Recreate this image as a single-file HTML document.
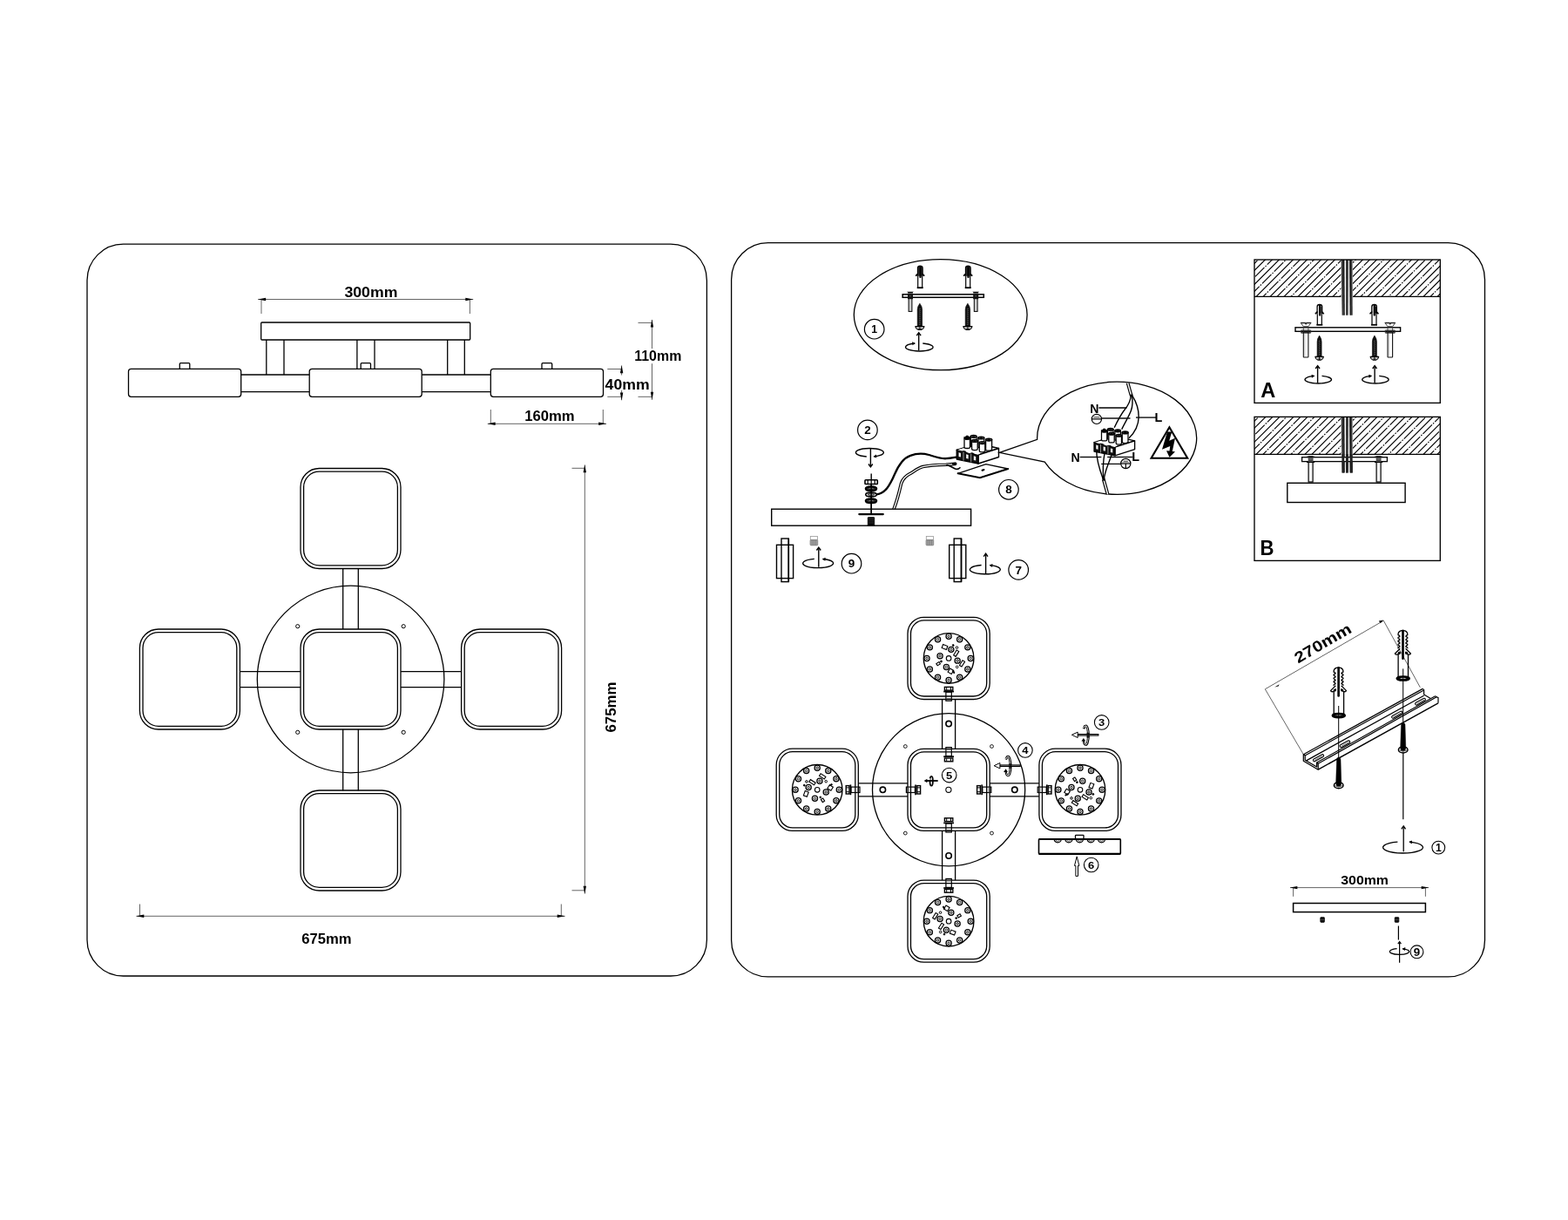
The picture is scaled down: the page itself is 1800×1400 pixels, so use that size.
<!DOCTYPE html>
<html lang="en"><head><meta charset="utf-8"><title>Installation diagram</title>
<style>
html,body{margin:0;padding:0;background:#fff;}
body{width:1800px;height:1400px;overflow:hidden;}
svg{display:block;will-change:transform;}
svg text{font-family:"Liberation Sans",sans-serif;}
</style></head><body>
<svg width="1800" height="1400" viewBox="0 0 1800 1400">
<rect x="0" y="0" width="1800" height="1400" fill="#fff"/>
<!-- left panel: dimensions -->
<rect x="100" y="280.2" width="711.4" height="839.8" rx="41.5" fill="none" stroke="#000" stroke-width="1.3" />
<rect x="299.7" y="370" width="240" height="20" rx="1" fill="none" stroke="#000" stroke-width="1.3" />
<line x1="305.8" y1="390" x2="305.8" y2="430" stroke="#000" stroke-width="1.3" />
<line x1="326" y1="390" x2="326" y2="430" stroke="#000" stroke-width="1.3" />
<line x1="409.9" y1="390" x2="409.9" y2="423.3" stroke="#000" stroke-width="1.3" />
<line x1="430" y1="390" x2="430" y2="423.3" stroke="#000" stroke-width="1.3" />
<line x1="513.7" y1="390" x2="513.7" y2="430" stroke="#000" stroke-width="1.3" />
<line x1="533.3" y1="390" x2="533.3" y2="430" stroke="#000" stroke-width="1.3" />
<line x1="276.7" y1="430" x2="355.2" y2="430" stroke="#000" stroke-width="1.3" />
<line x1="276.7" y1="449.7" x2="355.2" y2="449.7" stroke="#000" stroke-width="1.3" />
<line x1="484.2" y1="430" x2="563.3" y2="430" stroke="#000" stroke-width="1.3" />
<line x1="484.2" y1="449.7" x2="563.3" y2="449.7" stroke="#000" stroke-width="1.3" />
<path d="M206.3,423.3 V417.7 Q206.3,416.7 207.3,416.7 H216.8 Q217.8,416.7 217.8,417.7 V423.3" fill="none" stroke="#000" stroke-width="1.3" />
<rect x="147.5" y="423.3" width="129.2" height="32" rx="3" fill="#fff" stroke="#000" stroke-width="1.3" />
<path d="M414.2,423.3 V417.7 Q414.2,416.7 415.2,416.7 H424.5 Q425.5,416.7 425.5,417.7 V423.3" fill="none" stroke="#000" stroke-width="1.3" />
<rect x="355.2" y="423.3" width="129" height="32" rx="3" fill="#fff" stroke="#000" stroke-width="1.3" />
<path d="M622,423.3 V417.7 Q622,416.7 623,416.7 H632.7 Q633.7,416.7 633.7,417.7 V423.3" fill="none" stroke="#000" stroke-width="1.3" />
<rect x="563.3" y="423.3" width="129.2" height="32" rx="3" fill="#fff" stroke="#000" stroke-width="1.3" />
<line x1="296.2" y1="343.5" x2="543.2" y2="343.5" stroke="#222" stroke-width="0.7" />
<polygon points="296.1,343.5 305.1,341.8 305.1,345.2" fill="#000" stroke="none" stroke-width="0" />
<polygon points="543.3,343.5 534.3,345.2 534.3,341.8" fill="#000" stroke="none" stroke-width="0" />
<line x1="300" y1="360" x2="300" y2="343.5" stroke="#222" stroke-width="0.7" />
<line x1="539.4" y1="360" x2="539.4" y2="343.5" stroke="#222" stroke-width="0.7" />
<text x="425.9" y="341.1" font-size="16.3" font-weight="bold" text-anchor="middle" textLength="61" lengthAdjust="spacingAndGlyphs" fill="#000" >300mm</text>
<line x1="559.8" y1="486.3" x2="696" y2="486.3" stroke="#222" stroke-width="0.7" />
<polygon points="559.6,486.3 568.6,484.6 568.6,488" fill="#000" stroke="none" stroke-width="0" />
<polygon points="696.2,486.3 687.2,488 687.2,484.6" fill="#000" stroke="none" stroke-width="0" />
<line x1="563.3" y1="470" x2="563.3" y2="486.3" stroke="#222" stroke-width="0.7" />
<line x1="692.3" y1="470" x2="692.3" y2="486.3" stroke="#222" stroke-width="0.7" />
<text x="630.9" y="483.2" font-size="16.3" font-weight="bold" text-anchor="middle" textLength="57.4" lengthAdjust="spacingAndGlyphs" fill="#000" >160mm</text>
<line x1="697.3" y1="423.5" x2="714" y2="423.5" stroke="#222" stroke-width="0.7" />
<line x1="697.3" y1="455.3" x2="714" y2="455.3" stroke="#222" stroke-width="0.7" />
<line x1="713.6" y1="419.5" x2="713.6" y2="430.5" stroke="#222" stroke-width="0.7" />
<line x1="713.6" y1="447.8" x2="713.6" y2="459.2" stroke="#222" stroke-width="0.7" />
<polygon points="713.6,419.3 715.3,428.3 711.9,428.3" fill="#000" stroke="none" stroke-width="0" />
<polygon points="713.6,459.4 711.9,450.4 715.3,450.4" fill="#000" stroke="none" stroke-width="0" />
<text x="694.6" y="446.8" font-size="16.3" font-weight="bold" text-anchor="start" textLength="51" lengthAdjust="spacingAndGlyphs" fill="#000" >40mm</text>
<line x1="732.5" y1="370.4" x2="749" y2="370.4" stroke="#222" stroke-width="0.7" />
<line x1="732.5" y1="455.3" x2="749" y2="455.3" stroke="#222" stroke-width="0.7" />
<line x1="748.5" y1="367" x2="748.5" y2="400" stroke="#222" stroke-width="0.7" />
<line x1="748.5" y1="417.2" x2="748.5" y2="458.8" stroke="#222" stroke-width="0.7" />
<polygon points="748.5,366.6 750.2,375.6 746.8,375.6" fill="#000" stroke="none" stroke-width="0" />
<polygon points="748.5,458.8 746.8,449.8 750.2,449.8" fill="#000" stroke="none" stroke-width="0" />
<text x="728.3" y="413.9" font-size="16.3" font-weight="bold" text-anchor="start" textLength="54" lengthAdjust="spacingAndGlyphs" fill="#000" >110mm</text>
<circle cx="402.6" cy="779.5" r="107.3" fill="none" stroke="#000" stroke-width="1.3"/>
<line x1="393.7" y1="652.5" x2="393.7" y2="722" stroke="#000" stroke-width="1.3" />
<line x1="411.3" y1="652.5" x2="411.3" y2="722" stroke="#000" stroke-width="1.3" />
<line x1="393.7" y1="837" x2="393.7" y2="907.2" stroke="#000" stroke-width="1.3" />
<line x1="411.3" y1="837" x2="411.3" y2="907.2" stroke="#000" stroke-width="1.3" />
<line x1="275.3" y1="770.7" x2="345" y2="770.7" stroke="#000" stroke-width="1.3" />
<line x1="275.3" y1="788.7" x2="345" y2="788.7" stroke="#000" stroke-width="1.3" />
<line x1="460" y1="770.7" x2="529.7" y2="770.7" stroke="#000" stroke-width="1.3" />
<line x1="460" y1="788.7" x2="529.7" y2="788.7" stroke="#000" stroke-width="1.3" />
<rect x="345" y="722" width="115" height="115" rx="21.5" fill="#fff" stroke="#000" stroke-width="1.3" />
<rect x="348.6" y="725.6" width="107.8" height="107.8" rx="18" fill="none" stroke="#000" stroke-width="1.3" />
<rect x="345" y="537.5" width="115" height="115" rx="21.5" fill="none" stroke="#000" stroke-width="1.3" />
<rect x="348.6" y="541.1" width="107.8" height="107.8" rx="18" fill="none" stroke="#000" stroke-width="1.3" />
<rect x="345" y="907" width="115" height="115" rx="21.5" fill="none" stroke="#000" stroke-width="1.3" />
<rect x="348.6" y="910.6" width="107.8" height="107.8" rx="18" fill="none" stroke="#000" stroke-width="1.3" />
<rect x="160.4" y="722" width="115" height="115" rx="21.5" fill="none" stroke="#000" stroke-width="1.3" />
<rect x="164" y="725.6" width="107.8" height="107.8" rx="18" fill="none" stroke="#000" stroke-width="1.3" />
<rect x="529.6" y="722" width="115" height="115" rx="21.5" fill="none" stroke="#000" stroke-width="1.3" />
<rect x="533.2" y="725.6" width="107.8" height="107.8" rx="18" fill="none" stroke="#000" stroke-width="1.3" />
<circle cx="341.7" cy="718.7" r="2.1" fill="none" stroke="#000" stroke-width="1"/>
<circle cx="463.2" cy="718.7" r="2.1" fill="none" stroke="#000" stroke-width="1"/>
<circle cx="341.7" cy="840.3" r="2.1" fill="none" stroke="#000" stroke-width="1"/>
<circle cx="463.2" cy="840.3" r="2.1" fill="none" stroke="#000" stroke-width="1"/>
<line x1="671.3" y1="533.5" x2="671.3" y2="1025.5" stroke="#222" stroke-width="0.7" />
<polygon points="671.3,533.3 673,542.3 669.6,542.3" fill="#000" stroke="none" stroke-width="0" />
<polygon points="671.3,1025.7 669.6,1016.7 673,1016.7" fill="#000" stroke="none" stroke-width="0" />
<line x1="656.5" y1="537.3" x2="671.3" y2="537.3" stroke="#222" stroke-width="0.7" />
<line x1="656.5" y1="1021.8" x2="671.3" y2="1021.8" stroke="#222" stroke-width="0.7" />
<text transform="translate(706.9,840.5) rotate(-90)" x="0" y="0" font-size="16.3" font-weight="bold" textLength="58" lengthAdjust="spacingAndGlyphs">675mm</text>
<line x1="156.5" y1="1051.3" x2="648.5" y2="1051.3" stroke="#222" stroke-width="0.7" />
<polygon points="156.3,1051.3 165.3,1049.6 165.3,1053" fill="#000" stroke="none" stroke-width="0" />
<polygon points="648.7,1051.3 639.7,1053 639.7,1049.6" fill="#000" stroke="none" stroke-width="0" />
<line x1="160.5" y1="1037.5" x2="160.5" y2="1051.3" stroke="#222" stroke-width="0.7" />
<line x1="644.3" y1="1037.5" x2="644.3" y2="1051.3" stroke="#222" stroke-width="0.7" />
<text x="374.9" y="1083.2" font-size="16.3" font-weight="bold" text-anchor="middle" textLength="57.4" lengthAdjust="spacingAndGlyphs" fill="#000" >675mm</text>
<!-- right panel: installation -->
<rect x="839.6" y="278.7" width="864.9" height="842.2" rx="42" fill="none" stroke="#000" stroke-width="1.3" />
<ellipse cx="1079.7" cy="361.15" rx="99.4" ry="63.55" fill="none" stroke="#000" stroke-width="1.3" />
<circle cx="1003.7" cy="377.7" r="11.3" fill="none" stroke="#000" stroke-width="1.2"/>
<text x="1003.7" y="382.2" font-size="12.4" font-weight="bold" text-anchor="middle" fill="#000" >1</text>
<path d="M1053.7,316.18 V330 M1058.7,316.18 V330" fill="none" stroke="#000" stroke-width="1.2" />
<path d="M1052.7,330.2 H1059.7" fill="none" stroke="#000" stroke-width="1.8" />
<path d="M1053.5,316.68 V307.8 Q1053.5,305.2 1056.2,305.2 Q1059.1,305.2 1059.1,307.8 V316.68" fill="#3a3a3a" stroke="#000" stroke-width="1.3" />
<path d="M1056.5,306.6 V317.98" fill="none" stroke="#000" stroke-width="2.3" stroke-linecap="round"/>
<path d="M1053.3,314.58 L1051.7,316.18 M1059.1,314.58 L1060.7,316.18" fill="none" stroke="#000" stroke-width="1.7" stroke-linecap="round"/>
<path d="M1108.7,316.18 V330 M1113.7,316.18 V330" fill="none" stroke="#000" stroke-width="1.2" />
<path d="M1107.7,330.2 H1114.7" fill="none" stroke="#000" stroke-width="1.8" />
<path d="M1108.5,316.68 V307.8 Q1108.5,305.2 1111.2,305.2 Q1114.1,305.2 1114.1,307.8 V316.68" fill="#3a3a3a" stroke="#000" stroke-width="1.3" />
<path d="M1111.5,306.6 V317.98" fill="none" stroke="#000" stroke-width="2.3" stroke-linecap="round"/>
<path d="M1108.3,314.58 L1106.7,316.18 M1114.1,314.58 L1115.7,316.18" fill="none" stroke="#000" stroke-width="1.7" stroke-linecap="round"/>
<rect x="1036.2" y="337.8" width="93.1" height="3.5" fill="#fff" stroke="#000" stroke-width="1.5" />
<rect x="1043.1" y="341.6" width="3.8" height="15.8" fill="#d0d0d0" stroke="#000" stroke-width="1.0" />
<rect x="1042" y="336.6" width="6" height="6.6" fill="#111" stroke="none" stroke-width="0" />
<line x1="1043.8" y1="339.75" x2="1046.2" y2="339.75" stroke="#888" stroke-width="0.6" />
<polygon points="1041.2,334.7 1048.8,334.7 1047.3,336.2 1042.7,336.2" fill="#000" stroke="none" stroke-width="0" />
<line x1="1042.4" y1="336.9" x2="1047.6" y2="336.9" stroke="#555" stroke-width="0.7" />
<rect x="1118.3" y="341.6" width="3.8" height="15.8" fill="#d0d0d0" stroke="#000" stroke-width="1.0" />
<rect x="1117.2" y="336.6" width="6" height="6.6" fill="#111" stroke="none" stroke-width="0" />
<line x1="1119" y1="339.75" x2="1121.4" y2="339.75" stroke="#888" stroke-width="0.6" />
<polygon points="1116.4,334.7 1124,334.7 1122.5,336.2 1117.9,336.2" fill="#000" stroke="none" stroke-width="0" />
<line x1="1117.6" y1="336.9" x2="1122.8" y2="336.9" stroke="#555" stroke-width="0.7" />
<path d="M1055.9,348.2 Q1053.2,351.7 1053.2,355.2 V374.2 H1058.6 V355.2 Q1058.6,351.7 1055.9,348.2 Z" fill="#111" stroke="#000" stroke-width="0.6" stroke-linejoin="round"/>
<line x1="1055" y1="355" x2="1056.8" y2="354.2" stroke="#999" stroke-width="0.5" />
<line x1="1055" y1="357.2" x2="1056.8" y2="356.4" stroke="#999" stroke-width="0.5" />
<line x1="1055" y1="359.4" x2="1056.8" y2="358.6" stroke="#999" stroke-width="0.5" />
<line x1="1055" y1="361.6" x2="1056.8" y2="360.8" stroke="#999" stroke-width="0.5" />
<line x1="1055" y1="363.8" x2="1056.8" y2="363" stroke="#999" stroke-width="0.5" />
<line x1="1055" y1="366" x2="1056.8" y2="365.2" stroke="#999" stroke-width="0.5" />
<line x1="1055" y1="368.2" x2="1056.8" y2="367.4" stroke="#999" stroke-width="0.5" />
<line x1="1055" y1="370.4" x2="1056.8" y2="369.6" stroke="#999" stroke-width="0.5" />
<line x1="1055" y1="372.6" x2="1056.8" y2="371.8" stroke="#999" stroke-width="0.5" />
<path d="M1050.8,374.5 H1061 Q1060.4,377.6 1057.5,378.5 H1054.3 Q1051.4,377.6 1050.8,374.5 Z" fill="#e8e8e8" stroke="#000" stroke-width="1.1" stroke-linejoin="round"/>
<line x1="1051.4" y1="374.7" x2="1060.4" y2="374.7" stroke="#000" stroke-width="1.3" />
<line x1="1053.5" y1="377.3" x2="1058.3" y2="377.3" stroke="#000" stroke-width="0.9" />
<line x1="1055.9" y1="375.2" x2="1055.9" y2="378.3" stroke="#000" stroke-width="1.0" />
<path d="M1110.9,348.2 Q1108.2,351.7 1108.2,355.2 V374.2 H1113.6 V355.2 Q1113.6,351.7 1110.9,348.2 Z" fill="#111" stroke="#000" stroke-width="0.6" stroke-linejoin="round"/>
<line x1="1110" y1="355" x2="1111.8" y2="354.2" stroke="#999" stroke-width="0.5" />
<line x1="1110" y1="357.2" x2="1111.8" y2="356.4" stroke="#999" stroke-width="0.5" />
<line x1="1110" y1="359.4" x2="1111.8" y2="358.6" stroke="#999" stroke-width="0.5" />
<line x1="1110" y1="361.6" x2="1111.8" y2="360.8" stroke="#999" stroke-width="0.5" />
<line x1="1110" y1="363.8" x2="1111.8" y2="363" stroke="#999" stroke-width="0.5" />
<line x1="1110" y1="366" x2="1111.8" y2="365.2" stroke="#999" stroke-width="0.5" />
<line x1="1110" y1="368.2" x2="1111.8" y2="367.4" stroke="#999" stroke-width="0.5" />
<line x1="1110" y1="370.4" x2="1111.8" y2="369.6" stroke="#999" stroke-width="0.5" />
<line x1="1110" y1="372.6" x2="1111.8" y2="371.8" stroke="#999" stroke-width="0.5" />
<path d="M1105.8,374.5 H1116 Q1115.4,377.6 1112.5,378.5 H1109.3 Q1106.4,377.6 1105.8,374.5 Z" fill="#e8e8e8" stroke="#000" stroke-width="1.1" stroke-linejoin="round"/>
<line x1="1106.4" y1="374.7" x2="1115.4" y2="374.7" stroke="#000" stroke-width="1.3" />
<line x1="1108.5" y1="377.3" x2="1113.3" y2="377.3" stroke="#000" stroke-width="0.9" />
<line x1="1110.9" y1="375.2" x2="1110.9" y2="378.3" stroke="#000" stroke-width="1.0" />
<path d="M1059.3,393.95 A15.8 4.6 0 1 1 1050.2,394.05" fill="none" stroke="#000" stroke-width="1.4" stroke-linecap="butt"/>
<polygon points="1050.9,393.98 1047.51,396.32 1047.12,392.34" fill="#000" stroke="none" stroke-width="0" />
<line x1="1054.7" y1="382.4" x2="1054.7" y2="402.2" stroke="#000" stroke-width="1.4" />
<path d="M1052.3,385.2 L1054.7,381.8 L1057.1,385.2" fill="none" stroke="#000" stroke-width="1.4" stroke-linejoin="miter"/>
<clipPath id="h298"><rect x="1440" y="298" width="213.3" height="42.4"/></clipPath>
<g clip-path="url(#h298)">
<path d="M1375,343.4 L1423.4,295 M1391,343.4 L1439.4,295 M1407,343.4 L1455.4,295 M1423,343.4 L1471.4,295 M1439,343.4 L1487.4,295 M1455,343.4 L1503.4,295 M1471,343.4 L1519.4,295 M1487,343.4 L1535.4,295 M1503,343.4 L1551.4,295 M1519,343.4 L1567.4,295 M1535,343.4 L1583.4,295 M1551,343.4 L1599.4,295 M1567,343.4 L1615.4,295 M1583,343.4 L1631.4,295 M1599,343.4 L1647.4,295 M1615,343.4 L1663.4,295 M1631,343.4 L1679.4,295 M1647,343.4 L1695.4,295" fill="none" stroke="#000" stroke-width="1.15" />
<path d="M1367.78,358.63 L1368.88,357.53 M1369.95,356.45 L1380.45,345.95 M1381.53,344.88 L1382.62,343.78 M1383.7,342.7 L1394.2,332.2 M1395.28,331.13 L1396.38,330.03 M1397.45,328.95 L1407.95,318.45 M1409.03,317.38 L1410.12,316.28 M1411.2,315.2 L1421.7,304.7 M1422.78,303.63 L1423.88,302.53 M1424.95,301.45 L1435.45,290.95 M1375.78,366.63 L1376.88,365.53 M1377.95,364.45 L1388.45,353.95 M1389.53,352.88 L1390.62,351.78 M1391.7,350.7 L1402.2,340.2 M1403.28,339.13 L1404.38,338.03 M1405.45,336.95 L1415.95,326.45 M1417.03,325.38 L1418.12,324.28 M1419.2,323.2 L1429.7,312.7 M1430.78,311.63 L1431.88,310.53 M1432.95,309.45 L1443.45,298.95 M1444.53,297.88 L1445.62,296.78 M1446.7,295.7 L1457.2,285.2 M1397.53,360.88 L1398.62,359.78 M1399.7,358.7 L1410.2,348.2 M1411.28,347.13 L1412.38,346.03 M1413.45,344.95 L1423.95,334.45 M1425.03,333.38 L1426.12,332.28 M1427.2,331.2 L1437.7,320.7 M1438.78,319.63 L1439.88,318.53 M1440.95,317.45 L1451.45,306.95 M1452.53,305.88 L1453.62,304.78 M1454.7,303.7 L1465.2,293.2 M1405.53,368.88 L1406.62,367.78 M1407.7,366.7 L1418.2,356.2 M1419.28,355.13 L1420.38,354.03 M1421.45,352.95 L1431.95,342.45 M1433.03,341.38 L1434.12,340.28 M1435.2,339.2 L1445.7,328.7 M1446.78,327.63 L1447.88,326.53 M1448.95,325.45 L1459.45,314.95 M1460.53,313.88 L1461.62,312.78 M1462.7,311.7 L1473.2,301.2 M1474.28,300.13 L1475.38,299.03 M1476.45,297.95 L1486.95,287.45 M1427.28,363.13 L1428.38,362.03 M1429.45,360.95 L1439.95,350.45 M1441.03,349.38 L1442.12,348.28 M1443.2,347.2 L1453.7,336.7 M1454.78,335.63 L1455.88,334.53 M1456.95,333.45 L1467.45,322.95 M1468.53,321.88 L1469.62,320.78 M1470.7,319.7 L1481.2,309.2 M1482.28,308.13 L1483.38,307.03 M1484.45,305.95 L1494.95,295.45 M1435.28,371.13 L1436.38,370.03 M1437.45,368.95 L1447.95,358.45 M1449.03,357.38 L1450.12,356.28 M1451.2,355.2 L1461.7,344.7 M1462.78,343.63 L1463.88,342.53 M1464.95,341.45 L1475.45,330.95 M1476.53,329.88 L1477.62,328.78 M1478.7,327.7 L1489.2,317.2 M1490.28,316.13 L1491.38,315.03 M1492.45,313.95 L1502.95,303.45 M1504.03,302.38 L1505.12,301.28 M1506.2,300.2 L1516.7,289.7 M1457.03,365.38 L1458.12,364.28 M1459.2,363.2 L1469.7,352.7 M1470.78,351.63 L1471.88,350.53 M1472.95,349.45 L1483.45,338.95 M1484.53,337.88 L1485.62,336.78 M1486.7,335.7 L1497.2,325.2 M1498.28,324.13 L1499.38,323.03 M1500.45,321.95 L1510.95,311.45 M1512.03,310.38 L1513.12,309.28 M1514.2,308.2 L1524.7,297.7 M1525.78,296.63 L1526.88,295.53 M1527.95,294.45 L1538.45,283.95 M1478.78,359.63 L1479.88,358.53 M1480.95,357.45 L1491.45,346.95 M1492.53,345.88 L1493.62,344.78 M1494.7,343.7 L1505.2,333.2 M1506.28,332.13 L1507.38,331.03 M1508.45,329.95 L1518.95,319.45 M1520.03,318.38 L1521.12,317.28 M1522.2,316.2 L1532.7,305.7 M1533.78,304.63 L1534.88,303.53 M1535.95,302.45 L1546.45,291.95 M1486.78,367.63 L1487.88,366.53 M1488.95,365.45 L1499.45,354.95 M1500.53,353.88 L1501.62,352.78 M1502.7,351.7 L1513.2,341.2 M1514.28,340.13 L1515.38,339.03 M1516.45,337.95 L1526.95,327.45 M1528.03,326.38 L1529.12,325.28 M1530.2,324.2 L1540.7,313.7 M1541.78,312.63 L1542.88,311.53 M1543.95,310.45 L1554.45,299.95 M1555.53,298.88 L1556.62,297.78 M1557.7,296.7 L1568.2,286.2 M1508.53,361.88 L1509.62,360.78 M1510.7,359.7 L1521.2,349.2 M1522.28,348.13 L1523.38,347.03 M1524.45,345.95 L1534.95,335.45 M1536.03,334.38 L1537.12,333.28 M1538.2,332.2 L1548.7,321.7 M1549.78,320.63 L1550.88,319.53 M1551.95,318.45 L1562.45,307.95 M1563.53,306.88 L1564.62,305.78 M1565.7,304.7 L1576.2,294.2 M1516.53,369.88 L1517.62,368.78 M1518.7,367.7 L1529.2,357.2 M1530.28,356.13 L1531.38,355.03 M1532.45,353.95 L1542.95,343.45 M1544.03,342.38 L1545.12,341.28 M1546.2,340.2 L1556.7,329.7 M1557.78,328.63 L1558.88,327.53 M1559.95,326.45 L1570.45,315.95 M1571.53,314.88 L1572.62,313.78 M1573.7,312.7 L1584.2,302.2 M1585.28,301.13 L1586.38,300.03 M1587.45,298.95 L1597.95,288.45 M1538.28,364.13 L1539.38,363.03 M1540.45,361.95 L1550.95,351.45 M1552.03,350.38 L1553.12,349.28 M1554.2,348.2 L1564.7,337.7 M1565.78,336.63 L1566.88,335.53 M1567.95,334.45 L1578.45,323.95 M1579.53,322.88 L1580.62,321.78 M1581.7,320.7 L1592.2,310.2 M1593.28,309.13 L1594.38,308.03 M1595.45,306.95 L1605.95,296.45 M1560.03,358.38 L1561.12,357.28 M1562.2,356.2 L1572.7,345.7 M1573.78,344.63 L1574.88,343.53 M1575.95,342.45 L1586.45,331.95 M1587.53,330.88 L1588.62,329.78 M1589.7,328.7 L1600.2,318.2 M1601.28,317.13 L1602.38,316.03 M1603.45,314.95 L1613.95,304.45 M1615.03,303.38 L1616.12,302.28 M1617.2,301.2 L1627.7,290.7 M1568.03,366.38 L1569.12,365.28 M1570.2,364.2 L1580.7,353.7 M1581.78,352.63 L1582.88,351.53 M1583.95,350.45 L1594.45,339.95 M1595.53,338.88 L1596.62,337.78 M1597.7,336.7 L1608.2,326.2 M1609.28,325.13 L1610.38,324.03 M1611.45,322.95 L1621.95,312.45 M1623.03,311.38 L1624.12,310.28 M1625.2,309.2 L1635.7,298.7 M1636.78,297.63 L1637.88,296.53 M1638.95,295.45 L1649.45,284.95 M1589.78,360.63 L1590.88,359.53 M1591.95,358.45 L1602.45,347.95 M1603.53,346.88 L1604.62,345.78 M1605.7,344.7 L1616.2,334.2 M1617.28,333.13 L1618.38,332.03 M1619.45,330.95 L1629.95,320.45 M1631.03,319.38 L1632.12,318.28 M1633.2,317.2 L1643.7,306.7 M1644.78,305.63 L1645.88,304.53 M1646.95,303.45 L1657.45,292.95 M1597.78,368.63 L1598.88,367.53 M1599.95,366.45 L1610.45,355.95 M1611.53,354.88 L1612.62,353.78 M1613.7,352.7 L1624.2,342.2 M1625.28,341.13 L1626.38,340.03 M1627.45,338.95 L1637.95,328.45 M1639.03,327.38 L1640.12,326.28 M1641.2,325.2 L1651.7,314.7 M1652.78,313.63 L1653.88,312.53 M1654.95,311.45 L1665.45,300.95 M1666.53,299.88 L1667.62,298.78 M1668.7,297.7 L1679.2,287.2 M1619.53,362.88 L1620.62,361.78 M1621.7,360.7 L1632.2,350.2 M1633.28,349.13 L1634.38,348.03 M1635.45,346.95 L1645.95,336.45 M1647.03,335.38 L1648.12,334.28 M1649.2,333.2 L1659.7,322.7 M1660.78,321.63 L1661.88,320.53 M1662.95,319.45 L1673.45,308.95 M1674.53,307.88 L1675.62,306.78 M1676.7,305.7 L1687.2,295.2 M1627.53,370.88 L1628.62,369.78 M1629.7,368.7 L1640.2,358.2 M1641.28,357.13 L1642.38,356.03 M1643.45,354.95 L1653.95,344.45 M1655.03,343.38 L1656.12,342.28 M1657.2,341.2 L1667.7,330.7 M1668.78,329.63 L1669.88,328.53 M1670.95,327.45 L1681.45,316.95 M1682.53,315.88 L1683.62,314.78 M1684.7,313.7 L1695.2,303.2 M1696.28,302.13 L1697.38,301.03 M1698.45,299.95 L1708.95,289.45" fill="none" stroke="#000" stroke-width="1.15" />
</g>
<rect x="1539.4" y="298.6" width="13.6" height="41.8" fill="#fff" stroke="none" stroke-width="0" />
<polygon points="1539.6,298 1543,298 1542.8,361.8 1540.6,361.8" fill="#3a3a3a" stroke="none" stroke-width="0" />
<polygon points="1545,298 1547.9,298 1547.6,361.8 1545.1,361.8" fill="#333" stroke="none" stroke-width="0" />
<polygon points="1549.6,298 1552.5,298 1552.7,361.8 1550.3,361.8" fill="#3a3a3a" stroke="none" stroke-width="0" />
<line x1="1542.8" y1="298" x2="1543.2" y2="361.8" stroke="#000" stroke-width="1.1" />
<line x1="1549.7" y1="298" x2="1550.1" y2="361.8" stroke="#000" stroke-width="1.1" />
<line x1="1440" y1="340.4" x2="1539.4" y2="340.4" stroke="#000" stroke-width="1.35" />
<line x1="1553" y1="340.4" x2="1653.3" y2="340.4" stroke="#000" stroke-width="1.35" />
<rect x="1440" y="298" width="213.3" height="164.4" fill="none" stroke="#000" stroke-width="1.35" />
<path d="M1512.3,359.75 V372.6 M1517.3,359.75 V372.6" fill="none" stroke="#000" stroke-width="1.2" />
<path d="M1511.3,372.8 H1518.3" fill="none" stroke="#000" stroke-width="1.8" />
<path d="M1512.1,360.25 V352.1 Q1512.1,349.5 1514.8,349.5 Q1517.7,349.5 1517.7,352.1 V360.25" fill="#fff" stroke="#000" stroke-width="1.3" />
<path d="M1515.1,350.9 V361.55" fill="none" stroke="#000" stroke-width="2.3" stroke-linecap="round"/>
<line x1="1516.9" y1="351.8" x2="1516.9" y2="359.75" stroke="#000" stroke-width="1.0" />
<path d="M1511.9,358.15 L1510.3,359.75 M1517.7,358.15 L1519.3,359.75" fill="none" stroke="#000" stroke-width="1.7" stroke-linecap="round"/>
<path d="M1575,359.75 V372.6 M1580,359.75 V372.6" fill="none" stroke="#000" stroke-width="1.2" />
<path d="M1574,372.8 H1581" fill="none" stroke="#000" stroke-width="1.8" />
<path d="M1574.8,360.25 V352.1 Q1574.8,349.5 1577.5,349.5 Q1580.4,349.5 1580.4,352.1 V360.25" fill="#fff" stroke="#000" stroke-width="1.3" />
<path d="M1577.8,350.9 V361.55" fill="none" stroke="#000" stroke-width="2.3" stroke-linecap="round"/>
<line x1="1579.6" y1="351.8" x2="1579.6" y2="359.75" stroke="#000" stroke-width="1.0" />
<path d="M1574.6,358.15 L1573,359.75 M1580.4,358.15 L1582,359.75" fill="none" stroke="#000" stroke-width="1.7" stroke-linecap="round"/>
<rect x="1487" y="375.8" width="120.6" height="4.5" fill="#fff" stroke="#000" stroke-width="1.4" />
<rect x="1496.3" y="381" width="5.6" height="29" rx="0.6" fill="#fff" stroke="#111" stroke-width="1.1" />
<line x1="1497.9" y1="383" x2="1497.9" y2="409.4" stroke="#999" stroke-width="0.5" />
<line x1="1496.3" y1="375.1" x2="1496.3" y2="381" stroke="#333" stroke-width="0.8" />
<line x1="1501.9" y1="375.1" x2="1501.9" y2="381" stroke="#333" stroke-width="0.8" />
<path d="M1493.1,370.3 H1505.1 L1502,374.7 H1496.2 Z" fill="#f4f4f4" stroke="#333" stroke-width="0.9" stroke-linejoin="round"/>
<path d="M1493.5,370.6 L1497.9,370.6 L1499.1,371.9 L1500.3,370.6 L1504.7,370.6" fill="none" stroke="#222" stroke-width="1.1" />
<line x1="1493.5" y1="379.1" x2="1504.7" y2="379.1" stroke="#111" stroke-width="1.0" />
<line x1="1493.5" y1="381.9" x2="1504.7" y2="381.9" stroke="#111" stroke-width="1.3" />
<line x1="1493.5" y1="379.1" x2="1493.5" y2="381.9" stroke="#333" stroke-width="0.8" />
<line x1="1504.7" y1="379.1" x2="1504.7" y2="381.9" stroke="#333" stroke-width="0.8" />
<rect x="1593" y="381" width="5.6" height="29" rx="0.6" fill="#fff" stroke="#111" stroke-width="1.1" />
<line x1="1594.6" y1="383" x2="1594.6" y2="409.4" stroke="#999" stroke-width="0.5" />
<line x1="1593" y1="375.1" x2="1593" y2="381" stroke="#333" stroke-width="0.8" />
<line x1="1598.6" y1="375.1" x2="1598.6" y2="381" stroke="#333" stroke-width="0.8" />
<path d="M1589.8,370.3 H1601.8 L1598.7,374.7 H1592.9 Z" fill="#f4f4f4" stroke="#333" stroke-width="0.9" stroke-linejoin="round"/>
<path d="M1590.2,370.6 L1594.6,370.6 L1595.8,371.9 L1597,370.6 L1601.4,370.6" fill="none" stroke="#222" stroke-width="1.1" />
<line x1="1590.2" y1="379.1" x2="1601.4" y2="379.1" stroke="#111" stroke-width="1.0" />
<line x1="1590.2" y1="381.9" x2="1601.4" y2="381.9" stroke="#111" stroke-width="1.3" />
<line x1="1590.2" y1="379.1" x2="1590.2" y2="381.9" stroke="#333" stroke-width="0.8" />
<line x1="1601.4" y1="379.1" x2="1601.4" y2="381.9" stroke="#333" stroke-width="0.8" />
<path d="M1514.6,385.1 Q1512.1,388.6 1512.1,392.1 V409 H1517.1 V392.1 Q1517.1,388.6 1514.6,385.1 Z" fill="#111" stroke="#000" stroke-width="0.6" stroke-linejoin="round"/>
<line x1="1513.7" y1="391.9" x2="1515.5" y2="391.1" stroke="#999" stroke-width="0.5" />
<line x1="1513.7" y1="394.1" x2="1515.5" y2="393.3" stroke="#999" stroke-width="0.5" />
<line x1="1513.7" y1="396.3" x2="1515.5" y2="395.5" stroke="#999" stroke-width="0.5" />
<line x1="1513.7" y1="398.5" x2="1515.5" y2="397.7" stroke="#999" stroke-width="0.5" />
<line x1="1513.7" y1="400.7" x2="1515.5" y2="399.9" stroke="#999" stroke-width="0.5" />
<line x1="1513.7" y1="402.9" x2="1515.5" y2="402.1" stroke="#999" stroke-width="0.5" />
<line x1="1513.7" y1="405.1" x2="1515.5" y2="404.3" stroke="#999" stroke-width="0.5" />
<line x1="1513.7" y1="407.3" x2="1515.5" y2="406.5" stroke="#999" stroke-width="0.5" />
<path d="M1509.8,409.3 H1519.4 Q1518.8,412.4 1516.2,413.3 H1513 Q1510.4,412.4 1509.8,409.3 Z" fill="#e8e8e8" stroke="#000" stroke-width="1.1" stroke-linejoin="round"/>
<line x1="1510.4" y1="409.5" x2="1518.8" y2="409.5" stroke="#000" stroke-width="1.3" />
<line x1="1512.2" y1="412.1" x2="1517" y2="412.1" stroke="#000" stroke-width="0.9" />
<line x1="1514.6" y1="410" x2="1514.6" y2="413.1" stroke="#000" stroke-width="1.0" />
<path d="M1577.9,385.1 Q1575.4,388.6 1575.4,392.1 V409 H1580.4 V392.1 Q1580.4,388.6 1577.9,385.1 Z" fill="#111" stroke="#000" stroke-width="0.6" stroke-linejoin="round"/>
<line x1="1577" y1="391.9" x2="1578.8" y2="391.1" stroke="#999" stroke-width="0.5" />
<line x1="1577" y1="394.1" x2="1578.8" y2="393.3" stroke="#999" stroke-width="0.5" />
<line x1="1577" y1="396.3" x2="1578.8" y2="395.5" stroke="#999" stroke-width="0.5" />
<line x1="1577" y1="398.5" x2="1578.8" y2="397.7" stroke="#999" stroke-width="0.5" />
<line x1="1577" y1="400.7" x2="1578.8" y2="399.9" stroke="#999" stroke-width="0.5" />
<line x1="1577" y1="402.9" x2="1578.8" y2="402.1" stroke="#999" stroke-width="0.5" />
<line x1="1577" y1="405.1" x2="1578.8" y2="404.3" stroke="#999" stroke-width="0.5" />
<line x1="1577" y1="407.3" x2="1578.8" y2="406.5" stroke="#999" stroke-width="0.5" />
<path d="M1573.1,409.3 H1582.7 Q1582.1,412.4 1579.5,413.3 H1576.3 Q1573.7,412.4 1573.1,409.3 Z" fill="#e8e8e8" stroke="#000" stroke-width="1.1" stroke-linejoin="round"/>
<line x1="1573.7" y1="409.5" x2="1582.1" y2="409.5" stroke="#000" stroke-width="1.3" />
<line x1="1575.5" y1="412.1" x2="1580.3" y2="412.1" stroke="#000" stroke-width="0.9" />
<line x1="1577.9" y1="410" x2="1577.9" y2="413.1" stroke="#000" stroke-width="1.0" />
<path d="M1517.5,431.38 A15.2 4.4 0 1 1 1508.6,431.41" fill="none" stroke="#000" stroke-width="1.4" stroke-linecap="butt"/>
<polygon points="1509.3,431.34 1505.9,433.66 1505.53,429.68" fill="#000" stroke="none" stroke-width="0" />
<line x1="1512.6" y1="420.2" x2="1512.6" y2="439.6" stroke="#000" stroke-width="1.4" />
<path d="M1510.2,423 L1512.6,419.6 L1515,423" fill="none" stroke="#000" stroke-width="1.4" stroke-linejoin="miter"/>
<path d="M1583.2,431.38 A15.2 4.4 0 1 1 1574.3,431.41" fill="none" stroke="#000" stroke-width="1.4" stroke-linecap="butt"/>
<polygon points="1575,431.34 1571.6,433.66 1571.23,429.68" fill="#000" stroke="none" stroke-width="0" />
<line x1="1578.1" y1="420.2" x2="1578.1" y2="439.6" stroke="#000" stroke-width="1.4" />
<path d="M1575.7,423 L1578.1,419.6 L1580.5,423" fill="none" stroke="#000" stroke-width="1.4" stroke-linejoin="miter"/>
<text x="1447.2" y="456" font-size="23.4" font-weight="bold" text-anchor="start" textLength="17" lengthAdjust="spacingAndGlyphs" fill="#000" >A</text>
<clipPath id="h478"><rect x="1440" y="478.4" width="213.3" height="42.9"/></clipPath>
<g clip-path="url(#h478)">
<path d="M1375,524.3 L1423.9,475.4 M1391,524.3 L1439.9,475.4 M1407,524.3 L1455.9,475.4 M1423,524.3 L1471.9,475.4 M1439,524.3 L1487.9,475.4 M1455,524.3 L1503.9,475.4 M1471,524.3 L1519.9,475.4 M1487,524.3 L1535.9,475.4 M1503,524.3 L1551.9,475.4 M1519,524.3 L1567.9,475.4 M1535,524.3 L1583.9,475.4 M1551,524.3 L1599.9,475.4 M1567,524.3 L1615.9,475.4 M1583,524.3 L1631.9,475.4 M1599,524.3 L1647.9,475.4 M1615,524.3 L1663.9,475.4 M1631,524.3 L1679.9,475.4 M1647,524.3 L1695.9,475.4" fill="none" stroke="#000" stroke-width="1.15" />
<path d="M1368.03,539.27 L1369.12,538.17 M1370.2,537.1 L1380.7,526.6 M1381.78,525.52 L1382.88,524.42 M1383.95,523.35 L1394.45,512.85 M1395.53,511.77 L1396.62,510.67 M1397.7,509.6 L1408.2,499.1 M1409.28,498.02 L1410.38,496.92 M1411.45,495.85 L1421.95,485.35 M1423.03,484.27 L1424.12,483.17 M1425.2,482.1 L1435.7,471.6 M1376.03,547.27 L1377.12,546.17 M1378.2,545.1 L1388.7,534.6 M1389.78,533.52 L1390.88,532.42 M1391.95,531.35 L1402.45,520.85 M1403.53,519.77 L1404.62,518.67 M1405.7,517.6 L1416.2,507.1 M1417.28,506.02 L1418.38,504.92 M1419.45,503.85 L1429.95,493.35 M1431.03,492.27 L1432.12,491.17 M1433.2,490.1 L1443.7,479.6 M1444.78,478.52 L1445.88,477.42 M1446.95,476.35 L1457.45,465.85 M1397.78,541.52 L1398.88,540.42 M1399.95,539.35 L1410.45,528.85 M1411.53,527.77 L1412.62,526.67 M1413.7,525.6 L1424.2,515.1 M1425.28,514.02 L1426.38,512.92 M1427.45,511.85 L1437.95,501.35 M1439.03,500.27 L1440.12,499.17 M1441.2,498.1 L1451.7,487.6 M1452.78,486.52 L1453.88,485.42 M1454.95,484.35 L1465.45,473.85 M1405.78,549.52 L1406.88,548.42 M1407.95,547.35 L1418.45,536.85 M1419.53,535.77 L1420.62,534.67 M1421.7,533.6 L1432.2,523.1 M1433.28,522.02 L1434.38,520.92 M1435.45,519.85 L1445.95,509.35 M1447.03,508.27 L1448.12,507.17 M1449.2,506.1 L1459.7,495.6 M1460.78,494.52 L1461.88,493.42 M1462.95,492.35 L1473.45,481.85 M1474.53,480.77 L1475.62,479.67 M1476.7,478.6 L1487.2,468.1 M1427.53,543.77 L1428.62,542.67 M1429.7,541.6 L1440.2,531.1 M1441.28,530.02 L1442.38,528.92 M1443.45,527.85 L1453.95,517.35 M1455.03,516.27 L1456.12,515.17 M1457.2,514.1 L1467.7,503.6 M1468.78,502.52 L1469.88,501.42 M1470.95,500.35 L1481.45,489.85 M1482.53,488.77 L1483.62,487.67 M1484.7,486.6 L1495.2,476.1 M1435.53,551.77 L1436.62,550.67 M1437.7,549.6 L1448.2,539.1 M1449.28,538.02 L1450.38,536.92 M1451.45,535.85 L1461.95,525.35 M1463.03,524.27 L1464.12,523.17 M1465.2,522.1 L1475.7,511.6 M1476.78,510.52 L1477.88,509.42 M1478.95,508.35 L1489.45,497.85 M1490.53,496.77 L1491.62,495.67 M1492.7,494.6 L1503.2,484.1 M1504.28,483.02 L1505.38,481.92 M1506.45,480.85 L1516.95,470.35 M1457.28,546.02 L1458.38,544.92 M1459.45,543.85 L1469.95,533.35 M1471.03,532.27 L1472.12,531.17 M1473.2,530.1 L1483.7,519.6 M1484.78,518.52 L1485.88,517.42 M1486.95,516.35 L1497.45,505.85 M1498.53,504.77 L1499.62,503.67 M1500.7,502.6 L1511.2,492.1 M1512.28,491.02 L1513.38,489.92 M1514.45,488.85 L1524.95,478.35 M1526.02,477.28 L1527.12,476.18 M1528.2,475.1 L1538.7,464.6 M1479.03,540.27 L1480.12,539.17 M1481.2,538.1 L1491.7,527.6 M1492.78,526.52 L1493.88,525.42 M1494.95,524.35 L1505.45,513.85 M1506.53,512.77 L1507.62,511.67 M1508.7,510.6 L1519.2,500.1 M1520.28,499.02 L1521.38,497.92 M1522.45,496.85 L1532.95,486.35 M1534.02,485.28 L1535.12,484.18 M1536.2,483.1 L1546.7,472.6 M1487.03,548.27 L1488.12,547.17 M1489.2,546.1 L1499.7,535.6 M1500.78,534.52 L1501.88,533.42 M1502.95,532.35 L1513.45,521.85 M1514.53,520.77 L1515.62,519.67 M1516.7,518.6 L1527.2,508.1 M1528.28,507.02 L1529.38,505.92 M1530.45,504.85 L1540.95,494.35 M1542.02,493.28 L1543.12,492.18 M1544.2,491.1 L1554.7,480.6 M1555.77,479.53 L1556.87,478.43 M1557.95,477.35 L1568.45,466.85 M1508.78,542.53 L1509.88,541.43 M1510.95,540.35 L1521.45,529.85 M1522.53,528.78 L1523.62,527.68 M1524.7,526.6 L1535.2,516.1 M1536.28,515.03 L1537.38,513.93 M1538.45,512.85 L1548.95,502.35 M1550.03,501.28 L1551.12,500.18 M1552.2,499.1 L1562.7,488.6 M1563.78,487.53 L1564.88,486.43 M1565.95,485.35 L1576.45,474.85 M1516.78,550.53 L1517.88,549.43 M1518.95,548.35 L1529.45,537.85 M1530.53,536.78 L1531.62,535.68 M1532.7,534.6 L1543.2,524.1 M1544.28,523.03 L1545.38,521.93 M1546.45,520.85 L1556.95,510.35 M1558.03,509.28 L1559.12,508.18 M1560.2,507.1 L1570.7,496.6 M1571.78,495.53 L1572.88,494.43 M1573.95,493.35 L1584.45,482.85 M1585.53,481.78 L1586.62,480.68 M1587.7,479.6 L1598.2,469.1 M1538.53,544.78 L1539.62,543.68 M1540.7,542.6 L1551.2,532.1 M1552.28,531.03 L1553.38,529.93 M1554.45,528.85 L1564.95,518.35 M1566.03,517.28 L1567.12,516.18 M1568.2,515.1 L1578.7,504.6 M1579.78,503.53 L1580.88,502.43 M1581.95,501.35 L1592.45,490.85 M1593.53,489.78 L1594.62,488.68 M1595.7,487.6 L1606.2,477.1 M1607.28,476.03 L1608.38,474.93 M1609.45,473.85 L1619.95,463.35 M1560.28,539.03 L1561.38,537.93 M1562.45,536.85 L1572.95,526.35 M1574.03,525.28 L1575.12,524.18 M1576.2,523.1 L1586.7,512.6 M1587.78,511.53 L1588.88,510.43 M1589.95,509.35 L1600.45,498.85 M1601.53,497.78 L1602.62,496.68 M1603.7,495.6 L1614.2,485.1 M1615.28,484.03 L1616.38,482.93 M1617.45,481.85 L1627.95,471.35 M1568.28,547.03 L1569.38,545.93 M1570.45,544.85 L1580.95,534.35 M1582.03,533.28 L1583.12,532.18 M1584.2,531.1 L1594.7,520.6 M1595.78,519.53 L1596.88,518.43 M1597.95,517.35 L1608.45,506.85 M1609.53,505.78 L1610.62,504.68 M1611.7,503.6 L1622.2,493.1 M1623.28,492.03 L1624.38,490.93 M1625.45,489.85 L1635.95,479.35 M1637.03,478.28 L1638.12,477.18 M1639.2,476.1 L1649.7,465.6 M1590.03,541.28 L1591.12,540.18 M1592.2,539.1 L1602.7,528.6 M1603.78,527.53 L1604.88,526.43 M1605.95,525.35 L1616.45,514.85 M1617.53,513.78 L1618.62,512.68 M1619.7,511.6 L1630.2,501.1 M1631.28,500.03 L1632.38,498.93 M1633.45,497.85 L1643.95,487.35 M1645.03,486.28 L1646.12,485.18 M1647.2,484.1 L1657.7,473.6 M1598.03,549.28 L1599.12,548.18 M1600.2,547.1 L1610.7,536.6 M1611.78,535.53 L1612.88,534.43 M1613.95,533.35 L1624.45,522.85 M1625.53,521.78 L1626.62,520.68 M1627.7,519.6 L1638.2,509.1 M1639.28,508.03 L1640.38,506.93 M1641.45,505.85 L1651.95,495.35 M1653.03,494.28 L1654.12,493.18 M1655.2,492.1 L1665.7,481.6 M1666.78,480.53 L1667.88,479.43 M1668.95,478.35 L1679.45,467.85 M1619.78,543.53 L1620.88,542.43 M1621.95,541.35 L1632.45,530.85 M1633.53,529.78 L1634.62,528.68 M1635.7,527.6 L1646.2,517.1 M1647.28,516.03 L1648.38,514.93 M1649.45,513.85 L1659.95,503.35 M1661.03,502.28 L1662.12,501.18 M1663.2,500.1 L1673.7,489.6 M1674.78,488.53 L1675.88,487.43 M1676.95,486.35 L1687.45,475.85 M1627.78,551.53 L1628.88,550.43 M1629.95,549.35 L1640.45,538.85 M1641.53,537.78 L1642.62,536.68 M1643.7,535.6 L1654.2,525.1 M1655.28,524.03 L1656.38,522.93 M1657.45,521.85 L1667.95,511.35 M1669.03,510.28 L1670.12,509.18 M1671.2,508.1 L1681.7,497.6 M1682.78,496.53 L1683.88,495.43 M1684.95,494.35 L1695.45,483.85 M1696.53,482.78 L1697.62,481.68 M1698.7,480.6 L1709.2,470.1" fill="none" stroke="#000" stroke-width="1.15" />
</g>
<rect x="1539.4" y="479" width="13.6" height="42.3" fill="#fff" stroke="none" stroke-width="0" />
<polygon points="1539.6,478.4 1543,478.4 1542.8,542.6 1540.6,542.6" fill="#3a3a3a" stroke="none" stroke-width="0" />
<polygon points="1545,478.4 1547.9,478.4 1547.6,542.6 1545.1,542.6" fill="#333" stroke="none" stroke-width="0" />
<polygon points="1549.6,478.4 1552.5,478.4 1552.7,542.6 1550.3,542.6" fill="#3a3a3a" stroke="none" stroke-width="0" />
<line x1="1542.8" y1="478.4" x2="1543.2" y2="542.6" stroke="#000" stroke-width="1.1" />
<line x1="1549.7" y1="478.4" x2="1550.1" y2="542.6" stroke="#000" stroke-width="1.1" />
<line x1="1440" y1="521.3" x2="1539.4" y2="521.3" stroke="#000" stroke-width="1.35" />
<line x1="1553" y1="521.3" x2="1653.3" y2="521.3" stroke="#000" stroke-width="1.35" />
<rect x="1440" y="478.4" width="213.3" height="165" fill="none" stroke="#000" stroke-width="1.35" />
<rect x="1502.1" y="530" width="5" height="23" fill="#f4f4f4" stroke="#000" stroke-width="1.2" />
<rect x="1580.1" y="530" width="5" height="23" fill="#f4f4f4" stroke="#000" stroke-width="1.2" />
<rect x="1494.6" y="524.7" width="97.8" height="4.9" fill="#fff" stroke="#000" stroke-width="1.3" />
<rect x="1501.7" y="523" width="5.8" height="8" fill="#444" stroke="none" stroke-width="0" />
<line x1="1500" y1="524.2" x2="1509.2" y2="524.2" stroke="#000" stroke-width="1.0" />
<line x1="1500" y1="530.6" x2="1509.2" y2="530.6" stroke="#000" stroke-width="1.0" />
<line x1="1502.6" y1="526.8" x2="1506.6" y2="526.8" stroke="#aaa" stroke-width="0.6" />
<rect x="1579.7" y="523" width="5.8" height="8" fill="#444" stroke="none" stroke-width="0" />
<line x1="1578" y1="524.2" x2="1587.2" y2="524.2" stroke="#000" stroke-width="1.0" />
<line x1="1578" y1="530.6" x2="1587.2" y2="530.6" stroke="#000" stroke-width="1.0" />
<line x1="1580.6" y1="526.8" x2="1584.6" y2="526.8" stroke="#aaa" stroke-width="0.6" />
<polygon points="1540.4,521.3 1543.3,521.3 1543,542.6 1540.6,542.6" fill="#222" stroke="none" stroke-width="0" />
<polygon points="1544.9,521.3 1548,521.3 1547.7,542.6 1545,542.6" fill="#222" stroke="none" stroke-width="0" />
<polygon points="1549.4,521.3 1552.6,521.3 1552.8,542.6 1550.2,542.6" fill="#222" stroke="none" stroke-width="0" />
<rect x="1477.8" y="554.3" width="135.3" height="22.2" fill="#fff" stroke="#000" stroke-width="1.4" />
<text x="1446.4" y="637" font-size="23.4" font-weight="bold" text-anchor="start" textLength="16" lengthAdjust="spacingAndGlyphs" fill="#000" >B</text>
<circle cx="995.9" cy="493.4" r="11.3" fill="none" stroke="#000" stroke-width="1.2"/>
<text x="995.9" y="497.9" font-size="12.4" font-weight="bold" text-anchor="middle" textLength="7.5" lengthAdjust="spacingAndGlyphs" fill="#000" >2</text>
<path d="M1003.2,523.88 A16 4.8 0 1 0 994.8,523.98" fill="none" stroke="#000" stroke-width="1.4" stroke-linecap="butt"/>
<polygon points="1002.5,523.94 1005.9,521.62 1006.28,525.6" fill="#000" stroke="none" stroke-width="0" />
<line x1="999.4" y1="535.3" x2="999.4" y2="514.6" stroke="#000" stroke-width="1.4" />
<path d="M997,532.5 L999.4,535.9 L1001.8,532.5" fill="none" stroke="#000" stroke-width="1.4" stroke-linejoin="miter"/>
<path d="M1006.6,567.3 C1016,566.5 1021.5,557 1027,544.3 C1031,535 1036,526 1045,522.9 C1052,520.2 1060,520.2 1066.4,522 C1074,524.4 1080,526.6 1086,526.2 C1090.5,525.9 1094,525.2 1097.5,524.6" fill="none" stroke="#000" stroke-width="2.3" stroke-linecap="round"/>
<path d="M1025.8,584.8 C1028.5,578 1032,566 1034.5,555 C1036.6,548.4 1040.6,545.6 1045,543.4 C1050,540.4 1054,537 1059.3,535.6 C1068,533.8 1078,533.4 1086,533.2 C1090,533 1094,532.6 1097.7,532.1" fill="none" stroke="#000" stroke-width="3.6" />
<path d="M1025.8,584.8 C1028.5,578 1032,566 1034.5,555 C1036.6,548.4 1040.6,545.6 1045,543.4 C1050,540.4 1054,537 1059.3,535.6 C1068,533.8 1078,533.4 1086,533.2 C1090,533 1094,532.6 1097.7,532.1" fill="none" stroke="#fff" stroke-width="1.3" />
<path d="M1087,533.6 C1091,535 1094,536.8 1096.6,538 C1098.6,538.8 1100.6,538.2 1102,536.8" fill="none" stroke="#000" stroke-width="1.6" stroke-linecap="round"/>
<rect x="1093" y="531.2" width="5.4" height="1.8" fill="#000" stroke="none" stroke-width="0" />
<rect x="885.7" y="584.2" width="228.9" height="19" fill="#fff" stroke="#000" stroke-width="1.4" />
<line x1="1000.2" y1="543.4" x2="1000.2" y2="589.6" stroke="#000" stroke-width="1.4" />
<rect x="993" y="550.8" width="14.3" height="4.7" rx="0.8" fill="#fff" stroke="#000" stroke-width="1.6" />
<line x1="996.2" y1="551" x2="996.2" y2="555.4" stroke="#000" stroke-width="1.2" />
<line x1="1000.2" y1="551" x2="1000.2" y2="555.4" stroke="#000" stroke-width="1.2" />
<line x1="1004.2" y1="551" x2="1004.2" y2="555.4" stroke="#000" stroke-width="1.2" />
<ellipse cx="1000" cy="560.8" rx="6.2" ry="2.4" fill="#555" stroke="#000" stroke-width="2.2" />
<ellipse cx="1000" cy="560.8" rx="3.9" ry="0.8" fill="#ddd" stroke="#111" stroke-width="0.9" />
<ellipse cx="1000" cy="567.5" rx="6.2" ry="2.4" fill="#fff" stroke="#000" stroke-width="1.6" />
<ellipse cx="1000" cy="567.5" rx="3.9" ry="0.8" fill="#ddd" stroke="#111" stroke-width="0.9" />
<ellipse cx="1000" cy="574.7" rx="6.2" ry="2.4" fill="#555" stroke="#000" stroke-width="2.2" />
<ellipse cx="1000" cy="574.7" rx="3.9" ry="0.8" fill="#ddd" stroke="#111" stroke-width="0.9" />
<line x1="1000.2" y1="556" x2="1000.2" y2="589.6" stroke="#000" stroke-width="1.4" />
<line x1="986.3" y1="590.1" x2="1013.8" y2="590.1" stroke="#000" stroke-width="2.2" stroke-linecap="round"/>
<rect x="996.2" y="593.6" width="7.6" height="9.8" rx="0.6" fill="#000" stroke="#000" stroke-width="0.6" />
<line x1="997" y1="595.6" x2="1003" y2="595.6" stroke="#666" stroke-width="0.5" />
<line x1="997" y1="597.8" x2="1003" y2="597.8" stroke="#666" stroke-width="0.5" />
<line x1="997" y1="600" x2="1003" y2="600" stroke="#666" stroke-width="0.5" />
<g transform="translate(0,0) translate(1098.25,527) scale(1) translate(-1098.25,-527)">
<polygon points="1098.25,516.25 1121.75,508.75 1146.5,514.5 1123,522" fill="#fff" stroke="#000" stroke-width="1.3" stroke-linejoin="round"/>
<path d="M1107,501.9 V513.2 A3.25 1.3 0 0 0 1113.5,513.2 V501.9 Z" fill="#fff" stroke="#000" stroke-width="1.3" />
<path d="M1107,503.2 L1109.25,500.2 H1111.25 L1113.5,503.2 A3.25 1.3 0 0 1 1107,503.2 Z" fill="#000" stroke="#000" stroke-width="1.0" />
<path d="M1114.3,500.8 V511.7 A3.35 1.3 0 0 0 1121,511.7 V500.8 Z" fill="#fff" stroke="#000" stroke-width="1.3" />
<ellipse cx="1117.65" cy="500.8" rx="3.35" ry="1.3" fill="#fff" stroke="#000" stroke-width="1.6" />
<ellipse cx="1117.65" cy="501" rx="1.75" ry="0.5" fill="#000" stroke="#000" stroke-width="0.8" />
<path d="M1123,502.5 V512.7 A3.35 1.3 0 0 0 1129.7,512.7 V502.5 Z" fill="#fff" stroke="#000" stroke-width="1.3" />
<ellipse cx="1126.35" cy="502.5" rx="3.35" ry="1.3" fill="#fff" stroke="#000" stroke-width="1.6" />
<ellipse cx="1126.35" cy="502.7" rx="1.75" ry="0.5" fill="#000" stroke="#000" stroke-width="0.8" />
<path d="M1131.6,504.6 V515.9 A3.5 1.3 0 0 0 1138.6,515.9 V504.6 Z" fill="#fff" stroke="#000" stroke-width="1.3" />
<ellipse cx="1135.1" cy="504.6" rx="3.5" ry="1.3" fill="#fff" stroke="#000" stroke-width="1.6" />
<ellipse cx="1135.1" cy="504.8" rx="1.9" ry="0.5" fill="#000" stroke="#000" stroke-width="0.8" />
<path d="M1115.6,505.9 V515.3 A3.3 1.3 0 0 0 1122.2,515.3 V505.9 Z" fill="#fff" stroke="#000" stroke-width="1.3" />
<ellipse cx="1118.9" cy="505.9" rx="3.3" ry="1.3" fill="#fff" stroke="#000" stroke-width="1.6" />
<ellipse cx="1118.9" cy="506.1" rx="1.7" ry="0.5" fill="#000" stroke="#000" stroke-width="0.8" />
<path d="M1124.3,508.1 V517.5 A3.25 1.3 0 0 0 1130.8,517.5 V508.1 Z" fill="#fff" stroke="#000" stroke-width="1.3" />
<ellipse cx="1127.55" cy="508.1" rx="3.25" ry="1.3" fill="#fff" stroke="#000" stroke-width="1.6" />
<ellipse cx="1127.55" cy="508.3" rx="1.65" ry="0.5" fill="#000" stroke="#000" stroke-width="0.8" />
<polygon points="1123,522 1146.5,514.5 1146.5,524.5 1123,532" fill="#fff" stroke="#000" stroke-width="1.4" stroke-linejoin="round"/>
<polygon points="1098.25,516.25 1123,522 1123,532 1098.25,527" fill="#111" stroke="#000" stroke-width="1.4" stroke-linejoin="round"/>
<polygon points="1099.2,516.3 1105.5,514.6 1108,516.5 1104.5,517.6" fill="#fff" stroke="none" stroke-width="0" />
<polygon points="1108.5,518.4 1114.5,516.6 1117,518.6 1113,520.2" fill="#fff" stroke="none" stroke-width="0" />
<polygon points="1117.5,520.6 1123,518.8 1125.2,520.6 1122.6,521.8" fill="#fff" stroke="none" stroke-width="0" />
<polygon points="1100.6,519.3 1102.9,519.9 1102.9,524.6 1100.6,524.1" fill="#fff" stroke="none" stroke-width="0" />
<polygon points="1109.2,521.3 1111.6,521.9 1111.6,526.6 1109.2,526.1" fill="#fff" stroke="none" stroke-width="0" />
<polygon points="1117.8,523.3 1120.2,523.9 1120.2,528.6 1117.8,528.1" fill="#fff" stroke="none" stroke-width="0" />
<line x1="1106" y1="518.5" x2="1106" y2="528.6" stroke="#bbb" stroke-width="0.8" />
<line x1="1114.7" y1="520.5" x2="1114.7" y2="530.4" stroke="#bbb" stroke-width="0.8" />
</g>
<path d="M1099.6,543.3 L1131.8,532.6 L1157.2,538" fill="none" stroke="#000" stroke-width="1.3" stroke-linejoin="miter"/>
<path d="M1157.2,538 L1125,548.2 L1099.6,543.3" fill="none" stroke="#000" stroke-width="2.0" stroke-linejoin="miter" stroke-linecap="round"/>
<ellipse cx="1128.5" cy="539.4" rx="2.1" ry="1.2" fill="#000" stroke="none" stroke-width="0" transform="rotate(-15 1128.5 539.4)"/>
<circle cx="1157.9" cy="561.8" r="11.3" fill="none" stroke="#000" stroke-width="1.2"/>
<text x="1157.9" y="566.3" font-size="12.4" font-weight="bold" text-anchor="middle" textLength="7.5" lengthAdjust="spacingAndGlyphs" fill="#000" >8</text>
<path d="M1190.65,504.3 A91.5 64.6 0 1 1 1199.3,530.2 L1147.4,519.4 Z" fill="none" stroke="#000" stroke-width="1.3" stroke-linejoin="miter"/>
<path d="M1294.6,439.5 L1298.6,453.8" fill="none" stroke="#000" stroke-width="3.8" />
<path d="M1294.6,439.5 L1298.6,453.8" fill="none" stroke="#fff" stroke-width="1.4" />
<path d="M1298.3,453.8 C1297.6,461 1294.5,466 1291.5,469.5 C1288,474 1283.5,481.5 1279.2,490.8" fill="none" stroke="#000" stroke-width="1.4" />
<path d="M1299.3,454.2 C1300.8,462 1300,467 1298.3,471.5 C1296,477.5 1291.6,484.6 1287.7,492.6" fill="none" stroke="#000" stroke-width="1.4" />
<path d="M1299.6,453.6 C1303,459 1307.4,468 1307.2,478.5 C1307,488 1302,497 1296,502.8" fill="none" stroke="#000" stroke-width="1.4" />
<rect x="1297.2" y="452.6" width="3.2" height="2.8" fill="#000" stroke="none" stroke-width="0" />
<line x1="1261.4" y1="468" x2="1293.5" y2="468" stroke="#000" stroke-width="1.4" />
<text x="1251.2" y="473.8" font-size="14.3" font-weight="bold" text-anchor="start" textLength="10.2" lengthAdjust="spacingAndGlyphs" fill="#000" >N</text>
<circle cx="1258.9" cy="480.9" r="5.6" fill="#fff" stroke="#000" stroke-width="1.2"/>
<line x1="1253.3" y1="480.9" x2="1264.5" y2="480.9" stroke="#000" stroke-width="1.2" />
<line x1="1255.3" y1="478.7" x2="1262.5" y2="478.7" stroke="#777" stroke-width="1.6" />
<line x1="1264.6" y1="480" x2="1297.5" y2="480" stroke="#111" stroke-width="1.4" />
<line x1="1304" y1="479.1" x2="1327" y2="479.1" stroke="#111" stroke-width="1.4" />
<text x="1325.6" y="483.8" font-size="14.3" font-weight="bold" text-anchor="start" textLength="8.8" lengthAdjust="spacingAndGlyphs" fill="#000" >L</text>
<path d="M1258.7,516.5 C1258.6,527 1262,538 1266.2,549.6" fill="none" stroke="#000" stroke-width="1.4" />
<path d="M1268.2,519 C1266.6,528 1265.8,540 1266.8,549.6" fill="none" stroke="#000" stroke-width="1.4" />
<path d="M1276.6,520 C1274.4,528.5 1268.6,538.5 1267.4,549.6" fill="none" stroke="#000" stroke-width="1.4" />
<path d="M1266.9,550.4 L1271.6,567.2" fill="none" stroke="#000" stroke-width="3.8" />
<path d="M1266.9,550.4 L1271.6,567.2" fill="none" stroke="#fff" stroke-width="1.4" />
<rect x="1265.4" y="548.6" width="3.2" height="3" fill="#000" stroke="none" stroke-width="0" />
<g transform="translate(157.8,-9) translate(1098.25,527) scale(0.965) translate(-1098.25,-527)">
<polygon points="1098.25,516.25 1121.75,508.75 1146.5,514.5 1123,522" fill="#fff" stroke="#000" stroke-width="1.3" stroke-linejoin="round"/>
<path d="M1107,501.9 V513.2 A3.25 1.3 0 0 0 1113.5,513.2 V501.9 Z" fill="#fff" stroke="#000" stroke-width="1.3" />
<path d="M1107,503.2 L1109.25,500.2 H1111.25 L1113.5,503.2 A3.25 1.3 0 0 1 1107,503.2 Z" fill="#000" stroke="#000" stroke-width="1.0" />
<path d="M1114.3,500.8 V511.7 A3.35 1.3 0 0 0 1121,511.7 V500.8 Z" fill="#fff" stroke="#000" stroke-width="1.3" />
<ellipse cx="1117.65" cy="500.8" rx="3.35" ry="1.3" fill="#fff" stroke="#000" stroke-width="1.6" />
<ellipse cx="1117.65" cy="501" rx="1.75" ry="0.5" fill="#000" stroke="#000" stroke-width="0.8" />
<path d="M1123,502.5 V512.7 A3.35 1.3 0 0 0 1129.7,512.7 V502.5 Z" fill="#fff" stroke="#000" stroke-width="1.3" />
<ellipse cx="1126.35" cy="502.5" rx="3.35" ry="1.3" fill="#fff" stroke="#000" stroke-width="1.6" />
<ellipse cx="1126.35" cy="502.7" rx="1.75" ry="0.5" fill="#000" stroke="#000" stroke-width="0.8" />
<path d="M1131.6,504.6 V515.9 A3.5 1.3 0 0 0 1138.6,515.9 V504.6 Z" fill="#fff" stroke="#000" stroke-width="1.3" />
<ellipse cx="1135.1" cy="504.6" rx="3.5" ry="1.3" fill="#fff" stroke="#000" stroke-width="1.6" />
<ellipse cx="1135.1" cy="504.8" rx="1.9" ry="0.5" fill="#000" stroke="#000" stroke-width="0.8" />
<path d="M1115.6,505.9 V515.3 A3.3 1.3 0 0 0 1122.2,515.3 V505.9 Z" fill="#fff" stroke="#000" stroke-width="1.3" />
<ellipse cx="1118.9" cy="505.9" rx="3.3" ry="1.3" fill="#fff" stroke="#000" stroke-width="1.6" />
<ellipse cx="1118.9" cy="506.1" rx="1.7" ry="0.5" fill="#000" stroke="#000" stroke-width="0.8" />
<path d="M1124.3,508.1 V517.5 A3.25 1.3 0 0 0 1130.8,517.5 V508.1 Z" fill="#fff" stroke="#000" stroke-width="1.3" />
<ellipse cx="1127.55" cy="508.1" rx="3.25" ry="1.3" fill="#fff" stroke="#000" stroke-width="1.6" />
<ellipse cx="1127.55" cy="508.3" rx="1.65" ry="0.5" fill="#000" stroke="#000" stroke-width="0.8" />
<polygon points="1123,522 1146.5,514.5 1146.5,524.5 1123,532" fill="#fff" stroke="#000" stroke-width="1.4" stroke-linejoin="round"/>
<polygon points="1098.25,516.25 1123,522 1123,532 1098.25,527" fill="#111" stroke="#000" stroke-width="1.4" stroke-linejoin="round"/>
<polygon points="1099.2,516.3 1105.5,514.6 1108,516.5 1104.5,517.6" fill="#fff" stroke="none" stroke-width="0" />
<polygon points="1108.5,518.4 1114.5,516.6 1117,518.6 1113,520.2" fill="#fff" stroke="none" stroke-width="0" />
<polygon points="1117.5,520.6 1123,518.8 1125.2,520.6 1122.6,521.8" fill="#fff" stroke="none" stroke-width="0" />
<polygon points="1100.6,519.3 1102.9,519.9 1102.9,524.6 1100.6,524.1" fill="#fff" stroke="none" stroke-width="0" />
<polygon points="1109.2,521.3 1111.6,521.9 1111.6,526.6 1109.2,526.1" fill="#fff" stroke="none" stroke-width="0" />
<polygon points="1117.8,523.3 1120.2,523.9 1120.2,528.6 1117.8,528.1" fill="#fff" stroke="none" stroke-width="0" />
<line x1="1106" y1="518.5" x2="1106" y2="528.6" stroke="#bbb" stroke-width="0.8" />
<line x1="1114.7" y1="520.5" x2="1114.7" y2="530.4" stroke="#bbb" stroke-width="0.8" />
</g>
<line x1="1239.6" y1="524.5" x2="1264.4" y2="524.5" stroke="#000" stroke-width="1.3" />
<text x="1229.4" y="529.8" font-size="14.3" font-weight="bold" text-anchor="start" textLength="10.2" lengthAdjust="spacingAndGlyphs" fill="#000" >N</text>
<line x1="1271.2" y1="524.5" x2="1300" y2="524.5" stroke="#000" stroke-width="1.3" />
<text x="1299.2" y="528.8" font-size="14.3" font-weight="bold" text-anchor="start" textLength="8.8" lengthAdjust="spacingAndGlyphs" fill="#000" >L</text>
<line x1="1264.2" y1="532.4" x2="1287" y2="532.4" stroke="#000" stroke-width="1.2" />
<circle cx="1292.3" cy="532" r="5.6" fill="#fff" stroke="#000" stroke-width="1.2"/>
<line x1="1286.7" y1="532" x2="1297.9" y2="532" stroke="#000" stroke-width="1.2" />
<line x1="1289.7" y1="529.2" x2="1294.9" y2="529.2" stroke="#333" stroke-width="1.0" />
<line x1="1288.3" y1="530.8" x2="1296.3" y2="530.8" stroke="#555" stroke-width="0.8" />
<line x1="1292.3" y1="532" x2="1292.3" y2="537.6" stroke="#000" stroke-width="1.2" />
<polygon points="1342.4,490.3 1363.2,525.7 1321.6,525.7" fill="#fff" stroke="#000" stroke-width="2.1" stroke-linejoin="miter"/>
<polygon points="1340,495.5 1345.25,495.5 1342.25,505.75 1349,502.75 1345.75,518 1349,518.25 1342.5,524.75 1339,517.25 1342.5,517.5 1343.25,512 1334,515.75" fill="#000" stroke="none" stroke-width="0" />
<rect x="897" y="618" width="8.3" height="49.6" fill="none" stroke="#000" stroke-width="1.4" />
<rect x="891.5" y="625.3" width="19.1" height="38.3" fill="none" stroke="#000" stroke-width="1.4" />
<line x1="905.3" y1="618" x2="905.3" y2="667.6" stroke="#000" stroke-width="1.6" />
<rect x="1095.2" y="618" width="8.3" height="49.6" fill="none" stroke="#000" stroke-width="1.4" />
<rect x="1089.7" y="625.3" width="19.1" height="38.3" fill="none" stroke="#000" stroke-width="1.4" />
<line x1="1103.5" y1="618" x2="1103.5" y2="667.6" stroke="#000" stroke-width="1.6" />
<rect x="930.3" y="615.6" width="8.2" height="4" fill="#fff" stroke="#999" stroke-width="0.8" />
<rect x="930.1" y="619.6" width="8.6" height="6.2" rx="0.8" fill="#aaa" stroke="#777" stroke-width="0.8" />
<line x1="932.2" y1="620" x2="932.2" y2="625.6" stroke="#666" stroke-width="0.7" />
<line x1="934.4" y1="620" x2="934.4" y2="625.6" stroke="#666" stroke-width="0.7" />
<line x1="936.6" y1="620" x2="936.6" y2="625.6" stroke="#666" stroke-width="0.7" />
<rect x="1063.3" y="615.6" width="8.2" height="4" fill="#fff" stroke="#999" stroke-width="0.8" />
<rect x="1063.1" y="619.6" width="8.6" height="6.2" rx="0.8" fill="#aaa" stroke="#777" stroke-width="0.8" />
<line x1="1065.2" y1="620" x2="1065.2" y2="625.6" stroke="#666" stroke-width="0.7" />
<line x1="1067.4" y1="620" x2="1067.4" y2="625.6" stroke="#666" stroke-width="0.7" />
<line x1="1069.6" y1="620" x2="1069.6" y2="625.6" stroke="#666" stroke-width="0.7" />
<path d="M944.6,641.46 A17.5 5.2 0 1 1 934.8,641.36" fill="none" stroke="#000" stroke-width="1.4" stroke-linecap="butt"/>
<polygon points="943.9,641.39 947.68,639.76 947.29,643.74" fill="#000" stroke="none" stroke-width="0" />
<line x1="939.8" y1="628.7" x2="939.8" y2="650.8" stroke="#000" stroke-width="1.4" />
<path d="M937.4,631.5 L939.8,628.1 L942.2,631.5" fill="none" stroke="#000" stroke-width="1.4" stroke-linejoin="miter"/>
<circle cx="977.5" cy="646.7" r="11.3" fill="none" stroke="#000" stroke-width="1.2"/>
<text x="977.5" y="650.6" font-size="12.4" font-weight="bold" text-anchor="middle" textLength="7.5" lengthAdjust="spacingAndGlyphs" fill="#000" >9</text>
<path d="M1136.4,648.67 A17.5 5.2 0 1 1 1126.6,648.55" fill="none" stroke="#000" stroke-width="1.4" stroke-linecap="butt"/>
<polygon points="1135.7,648.6 1139.49,646.97 1139.09,650.95" fill="#000" stroke="none" stroke-width="0" />
<line x1="1131.6" y1="635.9" x2="1131.6" y2="658" stroke="#000" stroke-width="1.4" />
<path d="M1129.2,638.7 L1131.6,635.3 L1134,638.7" fill="none" stroke="#000" stroke-width="1.4" stroke-linejoin="miter"/>
<circle cx="1169.2" cy="653.9" r="11.3" fill="none" stroke="#000" stroke-width="1.2"/>
<text x="1169.2" y="659.1" font-size="12.4" font-weight="bold" text-anchor="middle" textLength="7.5" lengthAdjust="spacingAndGlyphs" fill="#000" >7</text>
<circle cx="1089.1" cy="906.3" r="87.6" fill="none" stroke="#000" stroke-width="1.3"/>
<g transform="rotate(0 1089.1 906.3)">
<line x1="1081.6" y1="802.5" x2="1081.6" y2="859.4" stroke="#000" stroke-width="1.3" />
<line x1="1096.6" y1="802.5" x2="1096.6" y2="859.4" stroke="#000" stroke-width="1.3" />
<circle cx="1089.1" cy="830.6" r="3.2" fill="#fff" stroke="#000" stroke-width="1.6"/>
<rect x="1042" y="708.4" width="94.2" height="94.1" rx="18.5" fill="#fff" stroke="#000" stroke-width="1.3" />
<rect x="1045.5" y="711.9" width="87.2" height="87.1" rx="15.2" fill="none" stroke="#000" stroke-width="1.3" />
</g>
<g transform="rotate(0 1089.1 906.3)">
<circle cx="1089.1" cy="755.4" r="28.8" fill="#fff" stroke="#000" stroke-width="1.4"/>
<circle cx="1089.1" cy="730.3" r="3.1" fill="#fff" stroke="#000" stroke-width="1.25"/>
<circle cx="1089.1" cy="730.3" r="1.25" fill="none" stroke="#111" stroke-width="1.0"/>
<circle cx="1101.65" cy="733.66" r="3.1" fill="#fff" stroke="#000" stroke-width="1.25"/>
<circle cx="1101.65" cy="733.66" r="1.25" fill="none" stroke="#111" stroke-width="1.0"/>
<circle cx="1110.84" cy="742.85" r="3.1" fill="#fff" stroke="#000" stroke-width="1.25"/>
<circle cx="1110.84" cy="742.85" r="1.25" fill="none" stroke="#111" stroke-width="1.0"/>
<circle cx="1114.2" cy="755.4" r="3.1" fill="#fff" stroke="#000" stroke-width="1.25"/>
<circle cx="1114.2" cy="755.4" r="1.25" fill="none" stroke="#111" stroke-width="1.0"/>
<circle cx="1110.84" cy="767.95" r="3.1" fill="#fff" stroke="#000" stroke-width="1.25"/>
<circle cx="1110.84" cy="767.95" r="1.25" fill="none" stroke="#111" stroke-width="1.0"/>
<circle cx="1101.65" cy="777.14" r="3.1" fill="#fff" stroke="#000" stroke-width="1.25"/>
<circle cx="1101.65" cy="777.14" r="1.25" fill="none" stroke="#111" stroke-width="1.0"/>
<circle cx="1089.1" cy="780.5" r="3.1" fill="#fff" stroke="#000" stroke-width="1.25"/>
<circle cx="1089.1" cy="780.5" r="1.25" fill="none" stroke="#111" stroke-width="1.0"/>
<circle cx="1076.55" cy="777.14" r="3.1" fill="#fff" stroke="#000" stroke-width="1.25"/>
<circle cx="1076.55" cy="777.14" r="1.25" fill="none" stroke="#111" stroke-width="1.0"/>
<circle cx="1067.36" cy="767.95" r="3.1" fill="#fff" stroke="#000" stroke-width="1.25"/>
<circle cx="1067.36" cy="767.95" r="1.25" fill="none" stroke="#111" stroke-width="1.0"/>
<circle cx="1064" cy="755.4" r="3.1" fill="#fff" stroke="#000" stroke-width="1.25"/>
<circle cx="1064" cy="755.4" r="1.25" fill="none" stroke="#111" stroke-width="1.0"/>
<circle cx="1067.36" cy="742.85" r="3.1" fill="#fff" stroke="#000" stroke-width="1.25"/>
<circle cx="1067.36" cy="742.85" r="1.25" fill="none" stroke="#111" stroke-width="1.0"/>
<circle cx="1076.55" cy="733.66" r="3.1" fill="#fff" stroke="#000" stroke-width="1.25"/>
<circle cx="1076.55" cy="733.66" r="1.25" fill="none" stroke="#111" stroke-width="1.0"/>
<rect x="1081.7" y="740.4" width="5.6" height="4.2" fill="#fff" stroke="#000" stroke-width="1.1" transform="rotate(20 1084.5 742.5)"/>
<rect x="1096.2" y="746.3" width="3" height="6.8" fill="#fff" stroke="#000" stroke-width="1.1" transform="rotate(32 1097.7 749.7)"/>
<rect x="1103" y="758" width="3" height="6.8" fill="#fff" stroke="#000" stroke-width="1.1" transform="rotate(32 1104.5 761.4)"/>
<rect x="1089" y="767.9" width="4.8" height="4.8" fill="#fff" stroke="#000" stroke-width="1.1" transform="rotate(32 1091.4 770.3)"/>
<rect x="1094.1" y="769.4" width="1.2" height="3.2" fill="#000" stroke="#000" stroke-width="0.8" transform="rotate(-28 1094.7 771)"/>
<rect x="1075.2" y="760.35" width="3.8" height="2.7" fill="#fff" stroke="#000" stroke-width="1.1" transform="rotate(-32 1077.1 761.7)"/>
<circle cx="1080.5" cy="759" r="0.9" fill="#000" stroke="#000" stroke-width="1.0"/>
<circle cx="1098.5" cy="743.1" r="1.3" fill="none" stroke="#000" stroke-width="1.0"/>
<circle cx="1098.7" cy="765.4" r="1.3" fill="none" stroke="#000" stroke-width="1.0"/>
<circle cx="1094.2" cy="740.5" r="0.9" fill="#000" stroke="#000" stroke-width="1.0"/>
<circle cx="1099.13" cy="758.14" r="3.1" fill="#fff" stroke="#000" stroke-width="1.25"/>
<circle cx="1099.13" cy="758.14" r="1.25" fill="none" stroke="#111" stroke-width="1.0"/>
<circle cx="1086.36" cy="765.43" r="3.1" fill="#fff" stroke="#000" stroke-width="1.25"/>
<circle cx="1086.36" cy="765.43" r="1.25" fill="none" stroke="#111" stroke-width="1.0"/>
<circle cx="1079.07" cy="752.66" r="3.1" fill="#fff" stroke="#000" stroke-width="1.25"/>
<circle cx="1079.07" cy="752.66" r="1.25" fill="none" stroke="#111" stroke-width="1.0"/>
<circle cx="1091.84" cy="745.37" r="3.1" fill="#fff" stroke="#000" stroke-width="1.25"/>
<circle cx="1091.84" cy="745.37" r="1.25" fill="none" stroke="#111" stroke-width="1.0"/>
<circle cx="1089.1" cy="755.4" r="2.8" fill="#fff" stroke="#000" stroke-width="1.1"/>
<rect x="1085.9" y="794.2" width="6.4" height="10" fill="none" stroke="#000" stroke-width="1.2" />
<line x1="1085.9" y1="801.6" x2="1092.3" y2="801.6" stroke="#555" stroke-width="0.8" />
<line x1="1083.2" y1="793.6" x2="1095" y2="793.6" stroke="#000" stroke-width="1.7" />
<rect x="1084.4" y="788.4" width="9.4" height="3.8" fill="#fff" stroke="#000" stroke-width="1.4" />
<line x1="1086.7" y1="788.6" x2="1086.7" y2="792" stroke="#000" stroke-width="1.0" />
<line x1="1091.5" y1="788.6" x2="1091.5" y2="792" stroke="#000" stroke-width="1.0" />
</g>
<g transform="rotate(90 1089.1 906.3)">
<line x1="1081.6" y1="802.5" x2="1081.6" y2="859.4" stroke="#000" stroke-width="1.3" />
<line x1="1096.6" y1="802.5" x2="1096.6" y2="859.4" stroke="#000" stroke-width="1.3" />
<circle cx="1089.1" cy="830.6" r="3.2" fill="#fff" stroke="#000" stroke-width="1.6"/>
<rect x="1042" y="708.4" width="94.2" height="94.1" rx="18.5" fill="#fff" stroke="#000" stroke-width="1.3" />
<rect x="1045.5" y="711.9" width="87.2" height="87.1" rx="15.2" fill="none" stroke="#000" stroke-width="1.3" />
</g>
<g transform="rotate(90 1089.1 906.3)">
<circle cx="1089.1" cy="755.4" r="28.8" fill="#fff" stroke="#000" stroke-width="1.4"/>
<circle cx="1089.1" cy="730.3" r="3.1" fill="#fff" stroke="#000" stroke-width="1.25"/>
<circle cx="1089.1" cy="730.3" r="1.25" fill="none" stroke="#111" stroke-width="1.0"/>
<circle cx="1101.65" cy="733.66" r="3.1" fill="#fff" stroke="#000" stroke-width="1.25"/>
<circle cx="1101.65" cy="733.66" r="1.25" fill="none" stroke="#111" stroke-width="1.0"/>
<circle cx="1110.84" cy="742.85" r="3.1" fill="#fff" stroke="#000" stroke-width="1.25"/>
<circle cx="1110.84" cy="742.85" r="1.25" fill="none" stroke="#111" stroke-width="1.0"/>
<circle cx="1114.2" cy="755.4" r="3.1" fill="#fff" stroke="#000" stroke-width="1.25"/>
<circle cx="1114.2" cy="755.4" r="1.25" fill="none" stroke="#111" stroke-width="1.0"/>
<circle cx="1110.84" cy="767.95" r="3.1" fill="#fff" stroke="#000" stroke-width="1.25"/>
<circle cx="1110.84" cy="767.95" r="1.25" fill="none" stroke="#111" stroke-width="1.0"/>
<circle cx="1101.65" cy="777.14" r="3.1" fill="#fff" stroke="#000" stroke-width="1.25"/>
<circle cx="1101.65" cy="777.14" r="1.25" fill="none" stroke="#111" stroke-width="1.0"/>
<circle cx="1089.1" cy="780.5" r="3.1" fill="#fff" stroke="#000" stroke-width="1.25"/>
<circle cx="1089.1" cy="780.5" r="1.25" fill="none" stroke="#111" stroke-width="1.0"/>
<circle cx="1076.55" cy="777.14" r="3.1" fill="#fff" stroke="#000" stroke-width="1.25"/>
<circle cx="1076.55" cy="777.14" r="1.25" fill="none" stroke="#111" stroke-width="1.0"/>
<circle cx="1067.36" cy="767.95" r="3.1" fill="#fff" stroke="#000" stroke-width="1.25"/>
<circle cx="1067.36" cy="767.95" r="1.25" fill="none" stroke="#111" stroke-width="1.0"/>
<circle cx="1064" cy="755.4" r="3.1" fill="#fff" stroke="#000" stroke-width="1.25"/>
<circle cx="1064" cy="755.4" r="1.25" fill="none" stroke="#111" stroke-width="1.0"/>
<circle cx="1067.36" cy="742.85" r="3.1" fill="#fff" stroke="#000" stroke-width="1.25"/>
<circle cx="1067.36" cy="742.85" r="1.25" fill="none" stroke="#111" stroke-width="1.0"/>
<circle cx="1076.55" cy="733.66" r="3.1" fill="#fff" stroke="#000" stroke-width="1.25"/>
<circle cx="1076.55" cy="733.66" r="1.25" fill="none" stroke="#111" stroke-width="1.0"/>
<rect x="1081.7" y="740.4" width="5.6" height="4.2" fill="#fff" stroke="#000" stroke-width="1.1" transform="rotate(20 1084.5 742.5)"/>
<rect x="1096.2" y="746.3" width="3" height="6.8" fill="#fff" stroke="#000" stroke-width="1.1" transform="rotate(32 1097.7 749.7)"/>
<rect x="1103" y="758" width="3" height="6.8" fill="#fff" stroke="#000" stroke-width="1.1" transform="rotate(32 1104.5 761.4)"/>
<rect x="1089" y="767.9" width="4.8" height="4.8" fill="#fff" stroke="#000" stroke-width="1.1" transform="rotate(32 1091.4 770.3)"/>
<rect x="1094.1" y="769.4" width="1.2" height="3.2" fill="#000" stroke="#000" stroke-width="0.8" transform="rotate(-28 1094.7 771)"/>
<rect x="1075.2" y="760.35" width="3.8" height="2.7" fill="#fff" stroke="#000" stroke-width="1.1" transform="rotate(-32 1077.1 761.7)"/>
<circle cx="1080.5" cy="759" r="0.9" fill="#000" stroke="#000" stroke-width="1.0"/>
<circle cx="1098.5" cy="743.1" r="1.3" fill="none" stroke="#000" stroke-width="1.0"/>
<circle cx="1098.7" cy="765.4" r="1.3" fill="none" stroke="#000" stroke-width="1.0"/>
<circle cx="1094.2" cy="740.5" r="0.9" fill="#000" stroke="#000" stroke-width="1.0"/>
<circle cx="1099.13" cy="758.14" r="3.1" fill="#fff" stroke="#000" stroke-width="1.25"/>
<circle cx="1099.13" cy="758.14" r="1.25" fill="none" stroke="#111" stroke-width="1.0"/>
<circle cx="1086.36" cy="765.43" r="3.1" fill="#fff" stroke="#000" stroke-width="1.25"/>
<circle cx="1086.36" cy="765.43" r="1.25" fill="none" stroke="#111" stroke-width="1.0"/>
<circle cx="1079.07" cy="752.66" r="3.1" fill="#fff" stroke="#000" stroke-width="1.25"/>
<circle cx="1079.07" cy="752.66" r="1.25" fill="none" stroke="#111" stroke-width="1.0"/>
<circle cx="1091.84" cy="745.37" r="3.1" fill="#fff" stroke="#000" stroke-width="1.25"/>
<circle cx="1091.84" cy="745.37" r="1.25" fill="none" stroke="#111" stroke-width="1.0"/>
<circle cx="1089.1" cy="755.4" r="2.8" fill="#fff" stroke="#000" stroke-width="1.1"/>
<rect x="1085.9" y="794.2" width="6.4" height="10" fill="none" stroke="#000" stroke-width="1.2" />
<line x1="1085.9" y1="801.6" x2="1092.3" y2="801.6" stroke="#555" stroke-width="0.8" />
<line x1="1083.2" y1="793.6" x2="1095" y2="793.6" stroke="#000" stroke-width="1.7" />
<rect x="1084.4" y="788.4" width="9.4" height="3.8" fill="#fff" stroke="#000" stroke-width="1.4" />
<line x1="1086.7" y1="788.6" x2="1086.7" y2="792" stroke="#000" stroke-width="1.0" />
<line x1="1091.5" y1="788.6" x2="1091.5" y2="792" stroke="#000" stroke-width="1.0" />
</g>
<g transform="rotate(180 1089.1 906.3)">
<line x1="1081.6" y1="802.5" x2="1081.6" y2="859.4" stroke="#000" stroke-width="1.3" />
<line x1="1096.6" y1="802.5" x2="1096.6" y2="859.4" stroke="#000" stroke-width="1.3" />
<circle cx="1089.1" cy="830.6" r="3.2" fill="#fff" stroke="#000" stroke-width="1.6"/>
<rect x="1042" y="708.4" width="94.2" height="94.1" rx="18.5" fill="#fff" stroke="#000" stroke-width="1.3" />
<rect x="1045.5" y="711.9" width="87.2" height="87.1" rx="15.2" fill="none" stroke="#000" stroke-width="1.3" />
</g>
<g transform="rotate(180 1089.1 906.3)">
<circle cx="1089.1" cy="755.4" r="28.8" fill="#fff" stroke="#000" stroke-width="1.4"/>
<circle cx="1089.1" cy="730.3" r="3.1" fill="#fff" stroke="#000" stroke-width="1.25"/>
<circle cx="1089.1" cy="730.3" r="1.25" fill="none" stroke="#111" stroke-width="1.0"/>
<circle cx="1101.65" cy="733.66" r="3.1" fill="#fff" stroke="#000" stroke-width="1.25"/>
<circle cx="1101.65" cy="733.66" r="1.25" fill="none" stroke="#111" stroke-width="1.0"/>
<circle cx="1110.84" cy="742.85" r="3.1" fill="#fff" stroke="#000" stroke-width="1.25"/>
<circle cx="1110.84" cy="742.85" r="1.25" fill="none" stroke="#111" stroke-width="1.0"/>
<circle cx="1114.2" cy="755.4" r="3.1" fill="#fff" stroke="#000" stroke-width="1.25"/>
<circle cx="1114.2" cy="755.4" r="1.25" fill="none" stroke="#111" stroke-width="1.0"/>
<circle cx="1110.84" cy="767.95" r="3.1" fill="#fff" stroke="#000" stroke-width="1.25"/>
<circle cx="1110.84" cy="767.95" r="1.25" fill="none" stroke="#111" stroke-width="1.0"/>
<circle cx="1101.65" cy="777.14" r="3.1" fill="#fff" stroke="#000" stroke-width="1.25"/>
<circle cx="1101.65" cy="777.14" r="1.25" fill="none" stroke="#111" stroke-width="1.0"/>
<circle cx="1089.1" cy="780.5" r="3.1" fill="#fff" stroke="#000" stroke-width="1.25"/>
<circle cx="1089.1" cy="780.5" r="1.25" fill="none" stroke="#111" stroke-width="1.0"/>
<circle cx="1076.55" cy="777.14" r="3.1" fill="#fff" stroke="#000" stroke-width="1.25"/>
<circle cx="1076.55" cy="777.14" r="1.25" fill="none" stroke="#111" stroke-width="1.0"/>
<circle cx="1067.36" cy="767.95" r="3.1" fill="#fff" stroke="#000" stroke-width="1.25"/>
<circle cx="1067.36" cy="767.95" r="1.25" fill="none" stroke="#111" stroke-width="1.0"/>
<circle cx="1064" cy="755.4" r="3.1" fill="#fff" stroke="#000" stroke-width="1.25"/>
<circle cx="1064" cy="755.4" r="1.25" fill="none" stroke="#111" stroke-width="1.0"/>
<circle cx="1067.36" cy="742.85" r="3.1" fill="#fff" stroke="#000" stroke-width="1.25"/>
<circle cx="1067.36" cy="742.85" r="1.25" fill="none" stroke="#111" stroke-width="1.0"/>
<circle cx="1076.55" cy="733.66" r="3.1" fill="#fff" stroke="#000" stroke-width="1.25"/>
<circle cx="1076.55" cy="733.66" r="1.25" fill="none" stroke="#111" stroke-width="1.0"/>
<rect x="1081.7" y="740.4" width="5.6" height="4.2" fill="#fff" stroke="#000" stroke-width="1.1" transform="rotate(20 1084.5 742.5)"/>
<rect x="1096.2" y="746.3" width="3" height="6.8" fill="#fff" stroke="#000" stroke-width="1.1" transform="rotate(32 1097.7 749.7)"/>
<rect x="1103" y="758" width="3" height="6.8" fill="#fff" stroke="#000" stroke-width="1.1" transform="rotate(32 1104.5 761.4)"/>
<rect x="1089" y="767.9" width="4.8" height="4.8" fill="#fff" stroke="#000" stroke-width="1.1" transform="rotate(32 1091.4 770.3)"/>
<rect x="1094.1" y="769.4" width="1.2" height="3.2" fill="#000" stroke="#000" stroke-width="0.8" transform="rotate(-28 1094.7 771)"/>
<rect x="1075.2" y="760.35" width="3.8" height="2.7" fill="#fff" stroke="#000" stroke-width="1.1" transform="rotate(-32 1077.1 761.7)"/>
<circle cx="1080.5" cy="759" r="0.9" fill="#000" stroke="#000" stroke-width="1.0"/>
<circle cx="1098.5" cy="743.1" r="1.3" fill="none" stroke="#000" stroke-width="1.0"/>
<circle cx="1098.7" cy="765.4" r="1.3" fill="none" stroke="#000" stroke-width="1.0"/>
<circle cx="1094.2" cy="740.5" r="0.9" fill="#000" stroke="#000" stroke-width="1.0"/>
<circle cx="1099.13" cy="758.14" r="3.1" fill="#fff" stroke="#000" stroke-width="1.25"/>
<circle cx="1099.13" cy="758.14" r="1.25" fill="none" stroke="#111" stroke-width="1.0"/>
<circle cx="1086.36" cy="765.43" r="3.1" fill="#fff" stroke="#000" stroke-width="1.25"/>
<circle cx="1086.36" cy="765.43" r="1.25" fill="none" stroke="#111" stroke-width="1.0"/>
<circle cx="1079.07" cy="752.66" r="3.1" fill="#fff" stroke="#000" stroke-width="1.25"/>
<circle cx="1079.07" cy="752.66" r="1.25" fill="none" stroke="#111" stroke-width="1.0"/>
<circle cx="1091.84" cy="745.37" r="3.1" fill="#fff" stroke="#000" stroke-width="1.25"/>
<circle cx="1091.84" cy="745.37" r="1.25" fill="none" stroke="#111" stroke-width="1.0"/>
<circle cx="1089.1" cy="755.4" r="2.8" fill="#fff" stroke="#000" stroke-width="1.1"/>
<rect x="1085.9" y="794.2" width="6.4" height="10" fill="none" stroke="#000" stroke-width="1.2" />
<line x1="1085.9" y1="801.6" x2="1092.3" y2="801.6" stroke="#555" stroke-width="0.8" />
<line x1="1083.2" y1="793.6" x2="1095" y2="793.6" stroke="#000" stroke-width="1.7" />
<rect x="1084.4" y="788.4" width="9.4" height="3.8" fill="#fff" stroke="#000" stroke-width="1.4" />
<line x1="1086.7" y1="788.6" x2="1086.7" y2="792" stroke="#000" stroke-width="1.0" />
<line x1="1091.5" y1="788.6" x2="1091.5" y2="792" stroke="#000" stroke-width="1.0" />
</g>
<g transform="rotate(270 1089.1 906.3)">
<line x1="1081.6" y1="802.5" x2="1081.6" y2="859.4" stroke="#000" stroke-width="1.3" />
<line x1="1096.6" y1="802.5" x2="1096.6" y2="859.4" stroke="#000" stroke-width="1.3" />
<circle cx="1089.1" cy="830.6" r="3.2" fill="#fff" stroke="#000" stroke-width="1.6"/>
<rect x="1042" y="708.4" width="94.2" height="94.1" rx="18.5" fill="#fff" stroke="#000" stroke-width="1.3" />
<rect x="1045.5" y="711.9" width="87.2" height="87.1" rx="15.2" fill="none" stroke="#000" stroke-width="1.3" />
</g>
<g transform="rotate(270 1089.1 906.3)">
<circle cx="1089.1" cy="755.4" r="28.8" fill="#fff" stroke="#000" stroke-width="1.4"/>
<circle cx="1089.1" cy="730.3" r="3.1" fill="#fff" stroke="#000" stroke-width="1.25"/>
<circle cx="1089.1" cy="730.3" r="1.25" fill="none" stroke="#111" stroke-width="1.0"/>
<circle cx="1101.65" cy="733.66" r="3.1" fill="#fff" stroke="#000" stroke-width="1.25"/>
<circle cx="1101.65" cy="733.66" r="1.25" fill="none" stroke="#111" stroke-width="1.0"/>
<circle cx="1110.84" cy="742.85" r="3.1" fill="#fff" stroke="#000" stroke-width="1.25"/>
<circle cx="1110.84" cy="742.85" r="1.25" fill="none" stroke="#111" stroke-width="1.0"/>
<circle cx="1114.2" cy="755.4" r="3.1" fill="#fff" stroke="#000" stroke-width="1.25"/>
<circle cx="1114.2" cy="755.4" r="1.25" fill="none" stroke="#111" stroke-width="1.0"/>
<circle cx="1110.84" cy="767.95" r="3.1" fill="#fff" stroke="#000" stroke-width="1.25"/>
<circle cx="1110.84" cy="767.95" r="1.25" fill="none" stroke="#111" stroke-width="1.0"/>
<circle cx="1101.65" cy="777.14" r="3.1" fill="#fff" stroke="#000" stroke-width="1.25"/>
<circle cx="1101.65" cy="777.14" r="1.25" fill="none" stroke="#111" stroke-width="1.0"/>
<circle cx="1089.1" cy="780.5" r="3.1" fill="#fff" stroke="#000" stroke-width="1.25"/>
<circle cx="1089.1" cy="780.5" r="1.25" fill="none" stroke="#111" stroke-width="1.0"/>
<circle cx="1076.55" cy="777.14" r="3.1" fill="#fff" stroke="#000" stroke-width="1.25"/>
<circle cx="1076.55" cy="777.14" r="1.25" fill="none" stroke="#111" stroke-width="1.0"/>
<circle cx="1067.36" cy="767.95" r="3.1" fill="#fff" stroke="#000" stroke-width="1.25"/>
<circle cx="1067.36" cy="767.95" r="1.25" fill="none" stroke="#111" stroke-width="1.0"/>
<circle cx="1064" cy="755.4" r="3.1" fill="#fff" stroke="#000" stroke-width="1.25"/>
<circle cx="1064" cy="755.4" r="1.25" fill="none" stroke="#111" stroke-width="1.0"/>
<circle cx="1067.36" cy="742.85" r="3.1" fill="#fff" stroke="#000" stroke-width="1.25"/>
<circle cx="1067.36" cy="742.85" r="1.25" fill="none" stroke="#111" stroke-width="1.0"/>
<circle cx="1076.55" cy="733.66" r="3.1" fill="#fff" stroke="#000" stroke-width="1.25"/>
<circle cx="1076.55" cy="733.66" r="1.25" fill="none" stroke="#111" stroke-width="1.0"/>
<rect x="1081.7" y="740.4" width="5.6" height="4.2" fill="#fff" stroke="#000" stroke-width="1.1" transform="rotate(20 1084.5 742.5)"/>
<rect x="1096.2" y="746.3" width="3" height="6.8" fill="#fff" stroke="#000" stroke-width="1.1" transform="rotate(32 1097.7 749.7)"/>
<rect x="1103" y="758" width="3" height="6.8" fill="#fff" stroke="#000" stroke-width="1.1" transform="rotate(32 1104.5 761.4)"/>
<rect x="1089" y="767.9" width="4.8" height="4.8" fill="#fff" stroke="#000" stroke-width="1.1" transform="rotate(32 1091.4 770.3)"/>
<rect x="1094.1" y="769.4" width="1.2" height="3.2" fill="#000" stroke="#000" stroke-width="0.8" transform="rotate(-28 1094.7 771)"/>
<rect x="1075.2" y="760.35" width="3.8" height="2.7" fill="#fff" stroke="#000" stroke-width="1.1" transform="rotate(-32 1077.1 761.7)"/>
<circle cx="1080.5" cy="759" r="0.9" fill="#000" stroke="#000" stroke-width="1.0"/>
<circle cx="1098.5" cy="743.1" r="1.3" fill="none" stroke="#000" stroke-width="1.0"/>
<circle cx="1098.7" cy="765.4" r="1.3" fill="none" stroke="#000" stroke-width="1.0"/>
<circle cx="1094.2" cy="740.5" r="0.9" fill="#000" stroke="#000" stroke-width="1.0"/>
<circle cx="1099.13" cy="758.14" r="3.1" fill="#fff" stroke="#000" stroke-width="1.25"/>
<circle cx="1099.13" cy="758.14" r="1.25" fill="none" stroke="#111" stroke-width="1.0"/>
<circle cx="1086.36" cy="765.43" r="3.1" fill="#fff" stroke="#000" stroke-width="1.25"/>
<circle cx="1086.36" cy="765.43" r="1.25" fill="none" stroke="#111" stroke-width="1.0"/>
<circle cx="1079.07" cy="752.66" r="3.1" fill="#fff" stroke="#000" stroke-width="1.25"/>
<circle cx="1079.07" cy="752.66" r="1.25" fill="none" stroke="#111" stroke-width="1.0"/>
<circle cx="1091.84" cy="745.37" r="3.1" fill="#fff" stroke="#000" stroke-width="1.25"/>
<circle cx="1091.84" cy="745.37" r="1.25" fill="none" stroke="#111" stroke-width="1.0"/>
<circle cx="1089.1" cy="755.4" r="2.8" fill="#fff" stroke="#000" stroke-width="1.1"/>
<rect x="1085.9" y="794.2" width="6.4" height="10" fill="none" stroke="#000" stroke-width="1.2" />
<line x1="1085.9" y1="801.6" x2="1092.3" y2="801.6" stroke="#555" stroke-width="0.8" />
<line x1="1083.2" y1="793.6" x2="1095" y2="793.6" stroke="#000" stroke-width="1.7" />
<rect x="1084.4" y="788.4" width="9.4" height="3.8" fill="#fff" stroke="#000" stroke-width="1.4" />
<line x1="1086.7" y1="788.6" x2="1086.7" y2="792" stroke="#000" stroke-width="1.0" />
<line x1="1091.5" y1="788.6" x2="1091.5" y2="792" stroke="#000" stroke-width="1.0" />
</g>
<rect x="1042" y="859.3" width="94.2" height="94.1" rx="18.5" fill="#fff" stroke="#000" stroke-width="1.3" />
<rect x="1045.5" y="862.8" width="87.2" height="87.1" rx="15.2" fill="none" stroke="#000" stroke-width="1.3" />
<g transform="rotate(0 1089.1 906.3)">
<rect x="1085.9" y="857.6" width="6.4" height="10" fill="none" stroke="#000" stroke-width="1.2" />
<line x1="1085.9" y1="860.2" x2="1092.3" y2="860.2" stroke="#555" stroke-width="0.8" />
<line x1="1083.2" y1="868.2" x2="1095" y2="868.2" stroke="#000" stroke-width="1.7" />
<rect x="1084.4" y="870" width="9.4" height="3.8" fill="#fff" stroke="#000" stroke-width="1.4" />
<line x1="1086.7" y1="870.2" x2="1086.7" y2="873.6" stroke="#000" stroke-width="1.0" />
<line x1="1091.5" y1="870.2" x2="1091.5" y2="873.6" stroke="#000" stroke-width="1.0" />
</g>
<g transform="rotate(90 1089.1 906.3)">
<rect x="1085.9" y="857.6" width="6.4" height="10" fill="none" stroke="#000" stroke-width="1.2" />
<line x1="1085.9" y1="860.2" x2="1092.3" y2="860.2" stroke="#555" stroke-width="0.8" />
<line x1="1083.2" y1="868.2" x2="1095" y2="868.2" stroke="#000" stroke-width="1.7" />
<rect x="1084.4" y="870" width="9.4" height="3.8" fill="#fff" stroke="#000" stroke-width="1.4" />
<line x1="1086.7" y1="870.2" x2="1086.7" y2="873.6" stroke="#000" stroke-width="1.0" />
<line x1="1091.5" y1="870.2" x2="1091.5" y2="873.6" stroke="#000" stroke-width="1.0" />
</g>
<g transform="rotate(180 1089.1 906.3)">
<rect x="1085.9" y="857.6" width="6.4" height="10" fill="none" stroke="#000" stroke-width="1.2" />
<line x1="1085.9" y1="860.2" x2="1092.3" y2="860.2" stroke="#555" stroke-width="0.8" />
<line x1="1083.2" y1="868.2" x2="1095" y2="868.2" stroke="#000" stroke-width="1.7" />
<rect x="1084.4" y="870" width="9.4" height="3.8" fill="#fff" stroke="#000" stroke-width="1.4" />
<line x1="1086.7" y1="870.2" x2="1086.7" y2="873.6" stroke="#000" stroke-width="1.0" />
<line x1="1091.5" y1="870.2" x2="1091.5" y2="873.6" stroke="#000" stroke-width="1.0" />
</g>
<g transform="rotate(270 1089.1 906.3)">
<rect x="1085.9" y="857.6" width="6.4" height="10" fill="none" stroke="#000" stroke-width="1.2" />
<line x1="1085.9" y1="860.2" x2="1092.3" y2="860.2" stroke="#555" stroke-width="0.8" />
<line x1="1083.2" y1="868.2" x2="1095" y2="868.2" stroke="#000" stroke-width="1.7" />
<rect x="1084.4" y="870" width="9.4" height="3.8" fill="#fff" stroke="#000" stroke-width="1.4" />
<line x1="1086.7" y1="870.2" x2="1086.7" y2="873.6" stroke="#000" stroke-width="1.0" />
<line x1="1091.5" y1="870.2" x2="1091.5" y2="873.6" stroke="#000" stroke-width="1.0" />
</g>
<circle cx="1039.3" cy="856.5" r="1.9" fill="none" stroke="#000" stroke-width="0.9"/>
<circle cx="1138.5" cy="856.5" r="1.9" fill="none" stroke="#000" stroke-width="0.9"/>
<circle cx="1039.3" cy="956.1" r="1.9" fill="none" stroke="#000" stroke-width="0.9"/>
<circle cx="1138.5" cy="956.1" r="1.9" fill="none" stroke="#000" stroke-width="0.9"/>
<circle cx="1088.9" cy="906.3" r="3.1" fill="none" stroke="#000" stroke-width="1.1"/>
<circle cx="1089.7" cy="889.6" r="8.3" fill="none" stroke="#000" stroke-width="1.1"/>
<text x="1089.7" y="893.9" font-size="11.8" font-weight="bold" text-anchor="middle" textLength="7.2" lengthAdjust="spacingAndGlyphs" fill="#000" >5</text>
<ellipse cx="1069.2" cy="896.2" rx="1.7" ry="5.4" fill="none" stroke="#000" stroke-width="1.8" />
<line x1="1063" y1="896" x2="1076.7" y2="896" stroke="#000" stroke-width="1.8" />
<polygon points="1060.6,896 1064.4,893.7 1064.4,898.3" fill="#000" stroke="none" stroke-width="0" />
<rect x="1065.7" y="893.2" width="2" height="1.8" fill="#fff" stroke="none" stroke-width="0" />
<path d="M1157.4,867.4 A3.6 11.7 0 0 1 1157.4,890.8" fill="none" stroke="#000" stroke-width="1.1" />
<path d="M1157.1,869.1 A2.0 10.0 0 0 1 1157.1,889.1" fill="none" stroke="#000" stroke-width="1.0" />
<path d="M1157.4,867.4 Q1155.1,867.5 1154.5,869.9" fill="none" stroke="#000" stroke-width="1.1" />
<path d="M1157.1,869.1 Q1156.1,869.5 1155.9,870.7" fill="none" stroke="#000" stroke-width="0.9" />
<polygon points="1153.1,870.7 1157.1,870.5 1155.5,872.1" fill="#000" stroke="none" stroke-width="0" />
<path d="M1157.4,890.8 Q1154.5,890.5 1154.1,885.5" fill="none" stroke="#000" stroke-width="1.1" />
<path d="M1157.1,889.1 Q1155.5,888.5 1155.3,885.5" fill="none" stroke="#000" stroke-width="0.9" />
<polygon points="1154.6,882.3 1152.1,885.9 1156.9,885.9" fill="#000" stroke="none" stroke-width="0" />
<rect x="1147.9" y="877.9" width="23.3" height="1.6" fill="#999" stroke="#000" stroke-width="1.0" />
<line x1="1157.5" y1="877.1" x2="1160.9" y2="877.1" stroke="#000" stroke-width="0.0" />
<polygon points="1141.1,878.7 1147.9,875.5 1147.9,881.9" fill="#fff" stroke="#000" stroke-width="1.0" stroke-linejoin="miter"/>
<path d="M1160.45,876.1 A3.6 11.7 0 0 1 1160.45,882.1" fill="none" stroke="#000" stroke-width="1.1" />
<path d="M1158.8,876.1 A2.0 10.0 0 0 1 1158.8,882.1" fill="none" stroke="#000" stroke-width="1.0" />
<circle cx="1176.9" cy="860.9" r="8.3" fill="none" stroke="#000" stroke-width="1.1"/>
<text x="1176.9" y="865.2" font-size="11.8" font-weight="bold" text-anchor="middle" textLength="7.2" lengthAdjust="spacingAndGlyphs" fill="#000" >4</text>
<path d="M1246.7,832 A3.6 11.7 0 0 1 1246.7,855.4" fill="none" stroke="#000" stroke-width="1.1" />
<path d="M1246.4,833.7 A2.0 10.0 0 0 1 1246.4,853.7" fill="none" stroke="#000" stroke-width="1.0" />
<path d="M1246.7,832 Q1244.4,832.1 1243.8,834.5" fill="none" stroke="#000" stroke-width="1.1" />
<path d="M1246.4,833.7 Q1245.4,834.1 1245.2,835.3" fill="none" stroke="#000" stroke-width="0.9" />
<polygon points="1242.4,835.3 1246.4,835.1 1244.8,836.7" fill="#000" stroke="none" stroke-width="0" />
<path d="M1246.7,855.4 Q1243.8,855.1 1243.4,850.1" fill="none" stroke="#000" stroke-width="1.1" />
<path d="M1246.4,853.7 Q1244.8,853.1 1244.6,850.1" fill="none" stroke="#000" stroke-width="0.9" />
<polygon points="1243.9,846.9 1241.4,850.5 1246.2,850.5" fill="#000" stroke="none" stroke-width="0" />
<rect x="1237.2" y="842.5" width="23.7" height="1.6" fill="#999" stroke="#000" stroke-width="1.0" />
<line x1="1246.8" y1="841.7" x2="1250.2" y2="841.7" stroke="#000" stroke-width="0.0" />
<polygon points="1230.4,843.3 1237.2,840.1 1237.2,846.5" fill="#fff" stroke="#000" stroke-width="1.0" stroke-linejoin="miter"/>
<path d="M1249.75,840.7 A3.6 11.7 0 0 1 1249.75,846.7" fill="none" stroke="#000" stroke-width="1.1" />
<path d="M1248.1,840.7 A2.0 10.0 0 0 1 1248.1,846.7" fill="none" stroke="#000" stroke-width="1.0" />
<circle cx="1264.7" cy="828.9" r="8.3" fill="none" stroke="#000" stroke-width="1.1"/>
<text x="1264.7" y="833.2" font-size="11.8" font-weight="bold" text-anchor="middle" textLength="7.2" lengthAdjust="spacingAndGlyphs" fill="#000" >3</text>
<path d="M1234.5,962.6 V958.9 Q1234.5,958.3 1235.1,958.3 H1243.4 Q1244,958.3 1244,958.9 V962.6" fill="#fff" stroke="#000" stroke-width="1.3" />
<rect x="1192.5" y="963" width="93.8" height="16.7" rx="0.8" fill="#fff" stroke="#000" stroke-width="1.6" />
<line x1="1192.5" y1="979.9" x2="1286.3" y2="979.9" stroke="#000" stroke-width="2.2" />
<line x1="1192.5" y1="962.9" x2="1286.3" y2="962.9" stroke="#000" stroke-width="1.9" />
<path d="M1210.3,963.4 A3.9 3.4 0 0 0 1218.1,963.4" fill="none" stroke="#000" stroke-width="1.3" />
<path d="M1212,963.6 A2.2 1.7 0 0 0 1216.4,963.6" fill="none" stroke="#333" stroke-width="0.8" />
<path d="M1223,963.4 A3.9 3.4 0 0 0 1230.8,963.4" fill="none" stroke="#000" stroke-width="1.3" />
<path d="M1224.7,963.6 A2.2 1.7 0 0 0 1229.1,963.6" fill="none" stroke="#333" stroke-width="0.8" />
<path d="M1235.5,963.4 A3.9 3.4 0 0 0 1243.3,963.4" fill="none" stroke="#000" stroke-width="1.3" />
<path d="M1237.2,963.6 A2.2 1.7 0 0 0 1241.6,963.6" fill="none" stroke="#333" stroke-width="0.8" />
<path d="M1248.3,963.4 A3.9 3.4 0 0 0 1256.1,963.4" fill="none" stroke="#000" stroke-width="1.3" />
<path d="M1250,963.6 A2.2 1.7 0 0 0 1254.4,963.6" fill="none" stroke="#333" stroke-width="0.8" />
<path d="M1260.6,963.4 A3.9 3.4 0 0 0 1268.4,963.4" fill="none" stroke="#000" stroke-width="1.3" />
<path d="M1262.3,963.6 A2.2 1.7 0 0 0 1266.7,963.6" fill="none" stroke="#333" stroke-width="0.8" />
<polygon points="1236.2,982.9 1238.9,993.4 1237.5,993.4 1237.5,1005.4 1234.9,1005.4 1234.9,993.4 1233.5,993.4" fill="#fff" stroke="#000" stroke-width="1.0" stroke-linejoin="miter"/>
<circle cx="1252.7" cy="992.5" r="8.3" fill="none" stroke="#000" stroke-width="1.1"/>
<text x="1252.7" y="996.8" font-size="11.8" font-weight="bold" text-anchor="middle" textLength="7.2" lengthAdjust="spacingAndGlyphs" fill="#000" >6</text>
<line x1="1452.3" y1="790.8" x2="1588.3" y2="712.2" stroke="#222" stroke-width="0.7" />
<line x1="1452.3" y1="790.8" x2="1496.3" y2="865.7" stroke="#222" stroke-width="0.7" />
<line x1="1588.3" y1="712.2" x2="1630.3" y2="788.8" stroke="#222" stroke-width="0.7" />
<polygon points="1463.2,788.4 1468.6,785.2 1467.6,787.6" fill="#111" stroke="none" stroke-width="0" />
<polygon points="1588.2,711.5 1582.8,712.6 1584.6,715.2" fill="#111" stroke="none" stroke-width="0" />
<text transform="translate(1490.3,761.6) rotate(-30.4)" x="0" y="0" font-size="17.6" font-weight="bold" textLength="72.4" lengthAdjust="spacingAndGlyphs">270mm</text>
<polygon points="1496.3,865.7 1633.3,790.4 1634.6,791.8 1634.6,796.6 1642.3,801.6 1649.2,799.6 1651,800.6 1651,806.8 1513.2,883.2 1496.3,873.2" fill="#fff" stroke="none" stroke-width="0" />
<line x1="1496.3" y1="865.7" x2="1633.3" y2="790.4" stroke="#000" stroke-width="1.25" />
<line x1="1498.2" y1="866.9" x2="1634.6" y2="791.9" stroke="#000" stroke-width="1.1" />
<line x1="1498.2" y1="873.6" x2="1634.6" y2="798.2" stroke="#000" stroke-width="1.25" />
<line x1="1513.2" y1="876.3" x2="1649.2" y2="799.8" stroke="#000" stroke-width="1.25" />
<line x1="1511.6" y1="875.1" x2="1647.6" y2="798.8" stroke="#000" stroke-width="1.1" />
<line x1="1513.2" y1="883.1" x2="1651" y2="806.8" stroke="#000" stroke-width="1.35" />
<line x1="1511.4" y1="879.6" x2="1642.4" y2="806" stroke="#000" stroke-width="0.0" />
<path d="M1496.3,865.7 V873.2 L1513.2,883.2 V876.3 L1511.6,875.1 V880 L1498.2,872.2 V866.9 Z" fill="#fff" stroke="#000" stroke-width="1.25" stroke-linejoin="round"/>
<path d="M1633.3,790.4 L1634.6,791.6 V797 L1642.2,801.6" fill="none" stroke="#000" stroke-width="1.2" stroke-linejoin="round"/>
<path d="M1647.6,798.8 L1649.2,799.8 L1651,800.6 V806.8" fill="none" stroke="#000" stroke-width="1.2" stroke-linejoin="round"/>
<rect x="1506.76" y="868.25" width="13.47" height="3" rx="1.5" fill="#fff" stroke="#000" stroke-width="1.1" transform="rotate(-28.79 1513.5 869.75)"/>
<line x1="1508.26" y1="870.05" x2="1518.74" y2="870.05" stroke="#555" stroke-width="0.7" transform="rotate(-28.79 1513.5 869.75)"/>
<rect x="1537.46" y="852.25" width="12.88" height="3" rx="1.5" fill="#fff" stroke="#000" stroke-width="1.1" transform="rotate(-28.79 1543.9 853.75)"/>
<line x1="1538.96" y1="854.05" x2="1548.84" y2="854.05" stroke="#555" stroke-width="0.7" transform="rotate(-28.79 1543.9 853.75)"/>
<rect x="1596.99" y="818.7" width="13.42" height="3" rx="1.5" fill="#fff" stroke="#000" stroke-width="1.1" transform="rotate(-28.79 1603.7 820.2)"/>
<line x1="1598.49" y1="820.5" x2="1608.91" y2="820.5" stroke="#555" stroke-width="0.7" transform="rotate(-28.79 1603.7 820.2)"/>
<rect x="1623.96" y="803.7" width="13.07" height="3" rx="1.5" fill="#fff" stroke="#000" stroke-width="1.1" transform="rotate(-28.79 1630.5 805.2)"/>
<line x1="1625.46" y1="805.5" x2="1635.54" y2="805.5" stroke="#555" stroke-width="0.7" transform="rotate(-28.79 1630.5 805.2)"/>
<g transform="translate(0,0)">
<line x1="1531.2" y1="793.4" x2="1531.2" y2="819.6" stroke="#000" stroke-width="1.3" />
<line x1="1542.6" y1="793.4" x2="1542.6" y2="819.6" stroke="#000" stroke-width="1.3" />
<ellipse cx="1536.8" cy="821.1" rx="6.9" ry="2" fill="#fff" stroke="#000" stroke-width="2.7" />
<path d="M1530.4,820.4 Q1536.8,823.6 1543.2,820.4" fill="none" stroke="#000" stroke-width="1.0" />
<path d="M1534.1,766.4 Q1530.9,767.6 1531.1,771.2 Q1533.5,772.3 1532.9,773.2 Q1530.3,773.8 1531.3,775.1 Q1533.5,776.2 1532.9,777.1 Q1530.3,777.7 1531.3,779 Q1533.5,780.1 1532.9,781 Q1530.3,781.6 1531.3,782.9 Q1533.5,784 1532.9,784.9 Q1530.3,785.5 1531.3,786.8 " fill="none" stroke="#000" stroke-width="1.3" />
<path d="M1533.3,786.8 L1527.5,792.6 Q1528.3,794.4 1530.9,793.4 Q1533.5,792.4 1533.3,790.4" fill="none" stroke="#000" stroke-width="1.3" stroke-linejoin="round"/>
<circle cx="1532.3" cy="792" r="1" fill="none" stroke="#000" stroke-width="1.2"/>
<path d="M1538.9,766.4 Q1542.1,767.6 1541.9,771.2 Q1539.5,772.3 1540.1,773.2 Q1542.7,773.8 1541.7,775.1 Q1539.5,776.2 1540.1,777.1 Q1542.7,777.7 1541.7,779 Q1539.5,780.1 1540.1,781 Q1542.7,781.6 1541.7,782.9 Q1539.5,784 1540.1,784.9 Q1542.7,785.5 1541.7,786.8 " fill="none" stroke="#000" stroke-width="1.3" />
<path d="M1539.7,786.8 L1545.5,792.6 Q1544.7,794.4 1542.1,793.4 Q1539.5,792.4 1539.7,790.4" fill="none" stroke="#000" stroke-width="1.3" stroke-linejoin="round"/>
<circle cx="1540.7" cy="792" r="1" fill="none" stroke="#000" stroke-width="1.2"/>
<line x1="1534.1" y1="766.3" x2="1538.9" y2="766.3" stroke="#000" stroke-width="1.4" />
<line x1="1536.6" y1="766.4" x2="1536.6" y2="798.4" stroke="#000" stroke-width="2.6" stroke-linecap="round"/>
</g>
<g transform="translate(73.9,-42.6)">
<line x1="1531.2" y1="793.4" x2="1531.2" y2="819.6" stroke="#000" stroke-width="1.3" />
<line x1="1542.6" y1="793.4" x2="1542.6" y2="819.6" stroke="#000" stroke-width="1.3" />
<ellipse cx="1536.8" cy="821.1" rx="6.9" ry="2" fill="#fff" stroke="#000" stroke-width="2.7" />
<path d="M1530.4,820.4 Q1536.8,823.6 1543.2,820.4" fill="none" stroke="#000" stroke-width="1.0" />
<path d="M1534.1,766.4 Q1530.9,767.6 1531.1,771.2 Q1533.5,772.3 1532.9,773.2 Q1530.3,773.8 1531.3,775.1 Q1533.5,776.2 1532.9,777.1 Q1530.3,777.7 1531.3,779 Q1533.5,780.1 1532.9,781 Q1530.3,781.6 1531.3,782.9 Q1533.5,784 1532.9,784.9 Q1530.3,785.5 1531.3,786.8 " fill="none" stroke="#000" stroke-width="1.3" />
<path d="M1533.3,786.8 L1527.5,792.6 Q1528.3,794.4 1530.9,793.4 Q1533.5,792.4 1533.3,790.4" fill="none" stroke="#000" stroke-width="1.3" stroke-linejoin="round"/>
<circle cx="1532.3" cy="792" r="1" fill="none" stroke="#000" stroke-width="1.2"/>
<path d="M1538.9,766.4 Q1542.1,767.6 1541.9,771.2 Q1539.5,772.3 1540.1,773.2 Q1542.7,773.8 1541.7,775.1 Q1539.5,776.2 1540.1,777.1 Q1542.7,777.7 1541.7,779 Q1539.5,780.1 1540.1,781 Q1542.7,781.6 1541.7,782.9 Q1539.5,784 1540.1,784.9 Q1542.7,785.5 1541.7,786.8 " fill="none" stroke="#000" stroke-width="1.3" />
<path d="M1539.7,786.8 L1545.5,792.6 Q1544.7,794.4 1542.1,793.4 Q1539.5,792.4 1539.7,790.4" fill="none" stroke="#000" stroke-width="1.3" stroke-linejoin="round"/>
<circle cx="1540.7" cy="792" r="1" fill="none" stroke="#000" stroke-width="1.2"/>
<line x1="1534.1" y1="766.3" x2="1538.9" y2="766.3" stroke="#000" stroke-width="1.4" />
<line x1="1536.6" y1="766.4" x2="1536.6" y2="798.4" stroke="#000" stroke-width="2.6" stroke-linecap="round"/>
</g>
<line x1="1536.7" y1="810" x2="1536.7" y2="870" stroke="#000" stroke-width="1.0" />
<line x1="1610.7" y1="767.4" x2="1610.7" y2="830" stroke="#000" stroke-width="1.0" />
<ellipse cx="1536.7" cy="901.2" rx="5.3" ry="3.5" fill="#fff" stroke="#000" stroke-width="1.5" />
<path d="M1534.5,871.4 Q1534.5,869.2 1536.7,869.2 Q1538.9,869.2 1539,871.4 L1539.8,898.6 Q1539.9,902.4 1536.7,902.6 Q1533.5,902.4 1533.6,898.6 Z" fill="#000" stroke="#000" stroke-width="0.4" />
<path d="M1532.4,901.6 Q1536.7,904.6 1541,901.6" fill="none" stroke="#333" stroke-width="0.9" />
<ellipse cx="1610.7" cy="860.4" rx="5.3" ry="3.5" fill="#fff" stroke="#000" stroke-width="1.5" />
<path d="M1608.5,831.6 Q1608.5,829.4 1610.7,829.4 Q1612.9,829.4 1613,831.6 L1613.8,857.8 Q1613.9,861.6 1610.7,861.8 Q1607.5,861.6 1607.6,857.8 Z" fill="#000" stroke="#000" stroke-width="0.4" />
<path d="M1606.4,860.8 Q1610.7,863.8 1615,860.8" fill="none" stroke="#333" stroke-width="0.9" />
<line x1="1610.8" y1="863.6" x2="1610.8" y2="940.2" stroke="#000" stroke-width="1.2" />
<path d="M1618,966.16 A23 6.6 0 1 1 1604.4,966.04" fill="none" stroke="#000" stroke-width="1.3" stroke-linecap="butt"/>
<polygon points="1617.3,966.09 1621.08,964.46 1620.69,968.44" fill="#000" stroke="none" stroke-width="0" />
<line x1="1611.2" y1="948.6" x2="1611.2" y2="977.2" stroke="#000" stroke-width="1.3" />
<path d="M1608.8,951.4 L1611.2,948 L1613.6,951.4" fill="none" stroke="#000" stroke-width="1.3" stroke-linejoin="miter"/>
<circle cx="1651.3" cy="972.6" r="7.4" fill="none" stroke="#000" stroke-width="1.1"/>
<text x="1651.3" y="977" font-size="12.2" font-weight="bold" text-anchor="middle" fill="#000" >1</text>
<line x1="1481" y1="1018.6" x2="1640" y2="1018.6" stroke="#222" stroke-width="0.7" />
<polygon points="1480.8,1018.6 1489.3,1017 1489.3,1020.2" fill="#000" stroke="none" stroke-width="0" />
<polygon points="1640.2,1018.6 1631.7,1020.2 1631.7,1017" fill="#000" stroke="none" stroke-width="0" />
<line x1="1484.6" y1="1018.6" x2="1484.6" y2="1028.8" stroke="#222" stroke-width="0.7" />
<line x1="1636.4" y1="1018.6" x2="1636.4" y2="1028.8" stroke="#222" stroke-width="0.7" />
<text x="1566.6" y="1015" font-size="14.3" font-weight="bold" text-anchor="middle" textLength="54.7" lengthAdjust="spacingAndGlyphs" fill="#000" >300mm</text>
<rect x="1484.6" y="1036.5" width="151.8" height="10.1" fill="#fff" stroke="#000" stroke-width="1.5" />
<rect x="1515.7" y="1052.6" width="4.8" height="5.8" rx="0.8" fill="#111" stroke="#000" stroke-width="0.6" />
<line x1="1516.1" y1="1055.4" x2="1520.1" y2="1055.4" stroke="#777" stroke-width="0.5" />
<rect x="1601.1" y="1052.6" width="4.8" height="5.8" rx="0.8" fill="#111" stroke="#000" stroke-width="0.6" />
<line x1="1601.5" y1="1055.4" x2="1605.5" y2="1055.4" stroke="#777" stroke-width="0.5" />
<line x1="1605.4" y1="1062.4" x2="1605.4" y2="1078.4" stroke="#000" stroke-width="1.2" />
<path d="M1610.2,1088.79 A11.2 3.4 0 1 1 1603.6,1088.72" fill="none" stroke="#000" stroke-width="1.2" stroke-linecap="butt"/>
<polygon points="1609.5,1088.72 1613.3,1087.11 1612.87,1091.09" fill="#000" stroke="none" stroke-width="0" />
<line x1="1606.6" y1="1081.2" x2="1606.6" y2="1104.8" stroke="#000" stroke-width="1.2" />
<path d="M1604.8,1083.2 L1606.6,1080.6 L1608.4,1083.2" fill="none" stroke="#000" stroke-width="1.2" stroke-linejoin="miter"/>
<circle cx="1626.5" cy="1092.3" r="7.4" fill="none" stroke="#000" stroke-width="1.1"/>
<text x="1626.5" y="1096.7" font-size="12.2" font-weight="bold" text-anchor="middle" textLength="7.4" lengthAdjust="spacingAndGlyphs" fill="#000" >9</text>
</svg>
</body></html>
